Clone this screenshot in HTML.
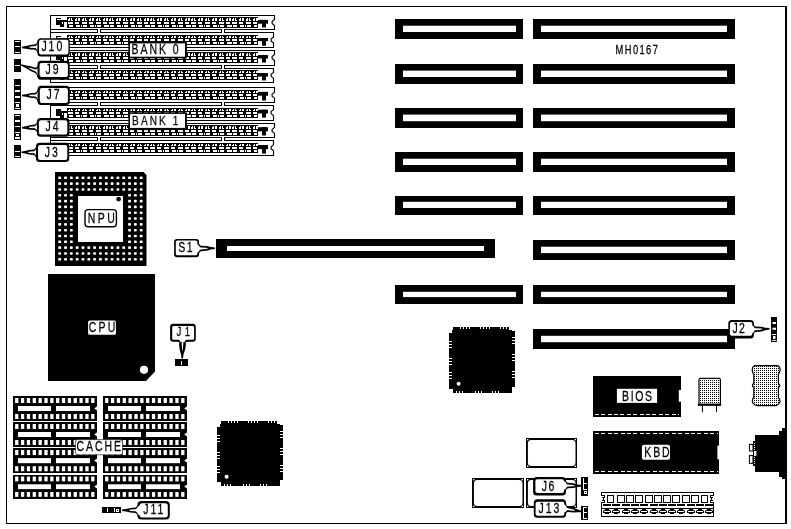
<!DOCTYPE html>
<html><head><meta charset="utf-8"><title>MH0167</title>
<style>
html,body{margin:0;padding:0;background:#fff;}
body{width:791px;height:529px;overflow:hidden;}
svg{display:block;}
text{font-family:"Liberation Sans",sans-serif;fill:#000;stroke:#000;stroke-width:0.25px;}
</style></head><body>
<svg width="791" height="529" viewBox="0 0 791 529" shape-rendering="crispEdges" style="will-change:transform">
<rect x="0" y="0" width="791" height="529" fill="#fff"/>
<defs><pattern id="dots" x="0" y="0" width="2" height="2" patternUnits="userSpaceOnUse"><rect x="0" y="0" width="2" height="2" fill="#fff"/><rect x="0" y="0" width="1" height="1" fill="#000"/></pattern></defs>
<defs>
<g id="band11">
<rect x="67" y="0" width="191" height="11" fill="#000" />
<rect x="68" y="1" width="2" height="3" fill="#fff" />
<rect x="68" y="1" width="1" height="1" fill="#000" />
<rect x="71" y="1" width="1" height="3" fill="#fff" />
<rect x="72" y="3" width="1" height="1" fill="#fff" />
<rect x="68" y="5" width="5" height="2" fill="#fff" />
<rect x="69" y="8" width="4" height="2" fill="#fff" />
<rect x="75" y="1" width="2" height="3" fill="#fff" />
<rect x="75" y="1" width="1" height="1" fill="#000" />
<rect x="78" y="1" width="2" height="3" fill="#fff" />
<rect x="75" y="5" width="4" height="2" fill="#fff" />
<rect x="76" y="8" width="4" height="2" fill="#fff" />
<rect x="82" y="1" width="2" height="3" fill="#fff" />
<rect x="82" y="1" width="1" height="1" fill="#000" />
<rect x="85" y="1" width="1" height="3" fill="#fff" />
<rect x="86" y="3" width="1" height="1" fill="#fff" />
<rect x="82" y="5" width="5" height="2" fill="#fff" />
<rect x="83" y="8" width="4" height="2" fill="#fff" />
<rect x="81" y="8" width="1" height="2" fill="#fff" />
<rect x="89" y="1" width="2" height="3" fill="#fff" />
<rect x="89" y="1" width="1" height="1" fill="#000" />
<rect x="92" y="1" width="2" height="3" fill="#fff" />
<rect x="89" y="5" width="4" height="2" fill="#fff" />
<rect x="90" y="8" width="4" height="2" fill="#fff" />
<rect x="96" y="1" width="2" height="3" fill="#fff" />
<rect x="96" y="1" width="1" height="1" fill="#000" />
<rect x="99" y="1" width="1" height="3" fill="#fff" />
<rect x="100" y="3" width="1" height="1" fill="#fff" />
<rect x="96" y="5" width="5" height="2" fill="#fff" />
<rect x="97" y="8" width="4" height="2" fill="#fff" />
<rect x="95" y="8" width="1" height="2" fill="#fff" />
<rect x="103" y="1" width="2" height="3" fill="#fff" />
<rect x="103" y="1" width="1" height="1" fill="#000" />
<rect x="106" y="1" width="2" height="3" fill="#fff" />
<rect x="103" y="5" width="4" height="2" fill="#fff" />
<rect x="104" y="8" width="4" height="2" fill="#fff" />
<rect x="109" y="1" width="2" height="3" fill="#fff" />
<rect x="109" y="1" width="1" height="1" fill="#000" />
<rect x="112" y="1" width="1" height="3" fill="#fff" />
<rect x="113" y="3" width="1" height="1" fill="#fff" />
<rect x="109" y="5" width="5" height="2" fill="#fff" />
<rect x="110" y="8" width="4" height="2" fill="#fff" />
<rect x="108" y="8" width="1" height="2" fill="#fff" />
<rect x="116" y="1" width="2" height="3" fill="#fff" />
<rect x="116" y="1" width="1" height="1" fill="#000" />
<rect x="119" y="1" width="2" height="3" fill="#fff" />
<rect x="116" y="5" width="4" height="2" fill="#fff" />
<rect x="117" y="8" width="4" height="2" fill="#fff" />
<rect x="123" y="1" width="2" height="3" fill="#fff" />
<rect x="123" y="1" width="1" height="1" fill="#000" />
<rect x="126" y="1" width="1" height="3" fill="#fff" />
<rect x="127" y="3" width="1" height="1" fill="#fff" />
<rect x="123" y="5" width="5" height="2" fill="#fff" />
<rect x="124" y="8" width="4" height="2" fill="#fff" />
<rect x="122" y="8" width="1" height="2" fill="#fff" />
<rect x="130" y="1" width="2" height="3" fill="#fff" />
<rect x="130" y="1" width="1" height="1" fill="#000" />
<rect x="133" y="1" width="2" height="3" fill="#fff" />
<rect x="130" y="5" width="4" height="2" fill="#fff" />
<rect x="131" y="8" width="4" height="2" fill="#fff" />
<rect x="137" y="1" width="2" height="3" fill="#fff" />
<rect x="137" y="1" width="1" height="1" fill="#000" />
<rect x="140" y="1" width="1" height="3" fill="#fff" />
<rect x="141" y="3" width="1" height="1" fill="#fff" />
<rect x="137" y="5" width="5" height="2" fill="#fff" />
<rect x="138" y="8" width="4" height="2" fill="#fff" />
<rect x="136" y="8" width="1" height="2" fill="#fff" />
<rect x="144" y="1" width="2" height="3" fill="#fff" />
<rect x="144" y="1" width="1" height="1" fill="#000" />
<rect x="147" y="1" width="2" height="3" fill="#fff" />
<rect x="144" y="5" width="4" height="2" fill="#fff" />
<rect x="145" y="8" width="4" height="2" fill="#fff" />
<rect x="150" y="1" width="2" height="3" fill="#fff" />
<rect x="150" y="1" width="1" height="1" fill="#000" />
<rect x="153" y="1" width="1" height="3" fill="#fff" />
<rect x="154" y="3" width="1" height="1" fill="#fff" />
<rect x="150" y="5" width="5" height="2" fill="#fff" />
<rect x="151" y="8" width="4" height="2" fill="#fff" />
<rect x="149" y="8" width="1" height="2" fill="#fff" />
<rect x="157" y="1" width="2" height="3" fill="#fff" />
<rect x="157" y="1" width="1" height="1" fill="#000" />
<rect x="160" y="1" width="2" height="3" fill="#fff" />
<rect x="157" y="5" width="4" height="2" fill="#fff" />
<rect x="158" y="8" width="4" height="2" fill="#fff" />
<rect x="164" y="1" width="2" height="3" fill="#fff" />
<rect x="164" y="1" width="1" height="1" fill="#000" />
<rect x="167" y="1" width="1" height="3" fill="#fff" />
<rect x="168" y="3" width="1" height="1" fill="#fff" />
<rect x="164" y="5" width="5" height="2" fill="#fff" />
<rect x="165" y="8" width="4" height="2" fill="#fff" />
<rect x="163" y="8" width="1" height="2" fill="#fff" />
<rect x="171" y="1" width="2" height="3" fill="#fff" />
<rect x="171" y="1" width="1" height="1" fill="#000" />
<rect x="174" y="1" width="2" height="3" fill="#fff" />
<rect x="171" y="5" width="4" height="2" fill="#fff" />
<rect x="172" y="8" width="4" height="2" fill="#fff" />
<rect x="178" y="1" width="2" height="3" fill="#fff" />
<rect x="178" y="1" width="1" height="1" fill="#000" />
<rect x="181" y="1" width="1" height="3" fill="#fff" />
<rect x="182" y="3" width="1" height="1" fill="#fff" />
<rect x="178" y="5" width="5" height="2" fill="#fff" />
<rect x="179" y="8" width="4" height="2" fill="#fff" />
<rect x="177" y="8" width="1" height="2" fill="#fff" />
<rect x="185" y="1" width="2" height="3" fill="#fff" />
<rect x="185" y="1" width="1" height="1" fill="#000" />
<rect x="188" y="1" width="2" height="3" fill="#fff" />
<rect x="185" y="5" width="4" height="2" fill="#fff" />
<rect x="186" y="8" width="4" height="2" fill="#fff" />
<rect x="191" y="1" width="2" height="3" fill="#fff" />
<rect x="191" y="1" width="1" height="1" fill="#000" />
<rect x="194" y="1" width="1" height="3" fill="#fff" />
<rect x="195" y="3" width="1" height="1" fill="#fff" />
<rect x="191" y="5" width="5" height="2" fill="#fff" />
<rect x="192" y="8" width="4" height="2" fill="#fff" />
<rect x="190" y="8" width="1" height="2" fill="#fff" />
<rect x="198" y="1" width="2" height="3" fill="#fff" />
<rect x="198" y="1" width="1" height="1" fill="#000" />
<rect x="201" y="1" width="2" height="3" fill="#fff" />
<rect x="198" y="5" width="4" height="2" fill="#fff" />
<rect x="199" y="8" width="4" height="2" fill="#fff" />
<rect x="205" y="1" width="2" height="3" fill="#fff" />
<rect x="205" y="1" width="1" height="1" fill="#000" />
<rect x="208" y="1" width="1" height="3" fill="#fff" />
<rect x="209" y="3" width="1" height="1" fill="#fff" />
<rect x="205" y="5" width="5" height="2" fill="#fff" />
<rect x="206" y="8" width="4" height="2" fill="#fff" />
<rect x="204" y="8" width="1" height="2" fill="#fff" />
<rect x="212" y="1" width="2" height="3" fill="#fff" />
<rect x="212" y="1" width="1" height="1" fill="#000" />
<rect x="215" y="1" width="2" height="3" fill="#fff" />
<rect x="212" y="5" width="4" height="2" fill="#fff" />
<rect x="213" y="8" width="4" height="2" fill="#fff" />
<rect x="219" y="1" width="2" height="3" fill="#fff" />
<rect x="219" y="1" width="1" height="1" fill="#000" />
<rect x="222" y="1" width="1" height="3" fill="#fff" />
<rect x="223" y="3" width="1" height="1" fill="#fff" />
<rect x="219" y="5" width="5" height="2" fill="#fff" />
<rect x="220" y="8" width="4" height="2" fill="#fff" />
<rect x="218" y="8" width="1" height="2" fill="#fff" />
<rect x="226" y="1" width="2" height="3" fill="#fff" />
<rect x="226" y="1" width="1" height="1" fill="#000" />
<rect x="229" y="1" width="2" height="3" fill="#fff" />
<rect x="226" y="5" width="4" height="2" fill="#fff" />
<rect x="227" y="8" width="4" height="2" fill="#fff" />
<rect x="232" y="1" width="2" height="3" fill="#fff" />
<rect x="232" y="1" width="1" height="1" fill="#000" />
<rect x="235" y="1" width="1" height="3" fill="#fff" />
<rect x="236" y="3" width="1" height="1" fill="#fff" />
<rect x="232" y="5" width="5" height="2" fill="#fff" />
<rect x="233" y="8" width="4" height="2" fill="#fff" />
<rect x="231" y="8" width="1" height="2" fill="#fff" />
<rect x="239" y="1" width="2" height="3" fill="#fff" />
<rect x="239" y="1" width="1" height="1" fill="#000" />
<rect x="242" y="1" width="2" height="3" fill="#fff" />
<rect x="239" y="5" width="4" height="2" fill="#fff" />
<rect x="240" y="8" width="4" height="2" fill="#fff" />
<rect x="246" y="1" width="2" height="3" fill="#fff" />
<rect x="246" y="1" width="1" height="1" fill="#000" />
<rect x="249" y="1" width="1" height="3" fill="#fff" />
<rect x="250" y="3" width="1" height="1" fill="#fff" />
<rect x="246" y="5" width="5" height="2" fill="#fff" />
<rect x="247" y="8" width="4" height="2" fill="#fff" />
<rect x="245" y="8" width="1" height="2" fill="#fff" />
<rect x="253" y="1" width="2" height="3" fill="#fff" />
<rect x="253" y="1" width="1" height="1" fill="#000" />
<rect x="256" y="1" width="2" height="3" fill="#fff" />
<rect x="253" y="5" width="4" height="2" fill="#fff" />
<rect x="254" y="8" width="3" height="2" fill="#fff" />
</g>
<g id="band10">
<rect x="67" y="0" width="191" height="10" fill="#000" />
<rect x="68" y="1" width="2" height="2" fill="#fff" />
<rect x="68" y="1" width="1" height="1" fill="#000" />
<rect x="71" y="1" width="1" height="2" fill="#fff" />
<rect x="72" y="2" width="1" height="1" fill="#fff" />
<rect x="68" y="4" width="5" height="2" fill="#fff" />
<rect x="69" y="7" width="4" height="2" fill="#fff" />
<rect x="75" y="1" width="2" height="2" fill="#fff" />
<rect x="75" y="1" width="1" height="1" fill="#000" />
<rect x="78" y="1" width="2" height="2" fill="#fff" />
<rect x="75" y="4" width="4" height="2" fill="#fff" />
<rect x="76" y="7" width="4" height="2" fill="#fff" />
<rect x="82" y="1" width="2" height="2" fill="#fff" />
<rect x="82" y="1" width="1" height="1" fill="#000" />
<rect x="85" y="1" width="1" height="2" fill="#fff" />
<rect x="86" y="2" width="1" height="1" fill="#fff" />
<rect x="82" y="4" width="5" height="2" fill="#fff" />
<rect x="83" y="7" width="4" height="2" fill="#fff" />
<rect x="81" y="7" width="1" height="2" fill="#fff" />
<rect x="89" y="1" width="2" height="2" fill="#fff" />
<rect x="89" y="1" width="1" height="1" fill="#000" />
<rect x="92" y="1" width="2" height="2" fill="#fff" />
<rect x="89" y="4" width="4" height="2" fill="#fff" />
<rect x="90" y="7" width="4" height="2" fill="#fff" />
<rect x="96" y="1" width="2" height="2" fill="#fff" />
<rect x="96" y="1" width="1" height="1" fill="#000" />
<rect x="99" y="1" width="1" height="2" fill="#fff" />
<rect x="100" y="2" width="1" height="1" fill="#fff" />
<rect x="96" y="4" width="5" height="2" fill="#fff" />
<rect x="97" y="7" width="4" height="2" fill="#fff" />
<rect x="95" y="7" width="1" height="2" fill="#fff" />
<rect x="103" y="1" width="2" height="2" fill="#fff" />
<rect x="103" y="1" width="1" height="1" fill="#000" />
<rect x="106" y="1" width="2" height="2" fill="#fff" />
<rect x="103" y="4" width="4" height="2" fill="#fff" />
<rect x="104" y="7" width="4" height="2" fill="#fff" />
<rect x="109" y="1" width="2" height="2" fill="#fff" />
<rect x="109" y="1" width="1" height="1" fill="#000" />
<rect x="112" y="1" width="1" height="2" fill="#fff" />
<rect x="113" y="2" width="1" height="1" fill="#fff" />
<rect x="109" y="4" width="5" height="2" fill="#fff" />
<rect x="110" y="7" width="4" height="2" fill="#fff" />
<rect x="108" y="7" width="1" height="2" fill="#fff" />
<rect x="116" y="1" width="2" height="2" fill="#fff" />
<rect x="116" y="1" width="1" height="1" fill="#000" />
<rect x="119" y="1" width="2" height="2" fill="#fff" />
<rect x="116" y="4" width="4" height="2" fill="#fff" />
<rect x="117" y="7" width="4" height="2" fill="#fff" />
<rect x="123" y="1" width="2" height="2" fill="#fff" />
<rect x="123" y="1" width="1" height="1" fill="#000" />
<rect x="126" y="1" width="1" height="2" fill="#fff" />
<rect x="127" y="2" width="1" height="1" fill="#fff" />
<rect x="123" y="4" width="5" height="2" fill="#fff" />
<rect x="124" y="7" width="4" height="2" fill="#fff" />
<rect x="122" y="7" width="1" height="2" fill="#fff" />
<rect x="130" y="1" width="2" height="2" fill="#fff" />
<rect x="130" y="1" width="1" height="1" fill="#000" />
<rect x="133" y="1" width="2" height="2" fill="#fff" />
<rect x="130" y="4" width="4" height="2" fill="#fff" />
<rect x="131" y="7" width="4" height="2" fill="#fff" />
<rect x="137" y="1" width="2" height="2" fill="#fff" />
<rect x="137" y="1" width="1" height="1" fill="#000" />
<rect x="140" y="1" width="1" height="2" fill="#fff" />
<rect x="141" y="2" width="1" height="1" fill="#fff" />
<rect x="137" y="4" width="5" height="2" fill="#fff" />
<rect x="138" y="7" width="4" height="2" fill="#fff" />
<rect x="136" y="7" width="1" height="2" fill="#fff" />
<rect x="144" y="1" width="2" height="2" fill="#fff" />
<rect x="144" y="1" width="1" height="1" fill="#000" />
<rect x="147" y="1" width="2" height="2" fill="#fff" />
<rect x="144" y="4" width="4" height="2" fill="#fff" />
<rect x="145" y="7" width="4" height="2" fill="#fff" />
<rect x="150" y="1" width="2" height="2" fill="#fff" />
<rect x="150" y="1" width="1" height="1" fill="#000" />
<rect x="153" y="1" width="1" height="2" fill="#fff" />
<rect x="154" y="2" width="1" height="1" fill="#fff" />
<rect x="150" y="4" width="5" height="2" fill="#fff" />
<rect x="151" y="7" width="4" height="2" fill="#fff" />
<rect x="149" y="7" width="1" height="2" fill="#fff" />
<rect x="157" y="1" width="2" height="2" fill="#fff" />
<rect x="157" y="1" width="1" height="1" fill="#000" />
<rect x="160" y="1" width="2" height="2" fill="#fff" />
<rect x="157" y="4" width="4" height="2" fill="#fff" />
<rect x="158" y="7" width="4" height="2" fill="#fff" />
<rect x="164" y="1" width="2" height="2" fill="#fff" />
<rect x="164" y="1" width="1" height="1" fill="#000" />
<rect x="167" y="1" width="1" height="2" fill="#fff" />
<rect x="168" y="2" width="1" height="1" fill="#fff" />
<rect x="164" y="4" width="5" height="2" fill="#fff" />
<rect x="165" y="7" width="4" height="2" fill="#fff" />
<rect x="163" y="7" width="1" height="2" fill="#fff" />
<rect x="171" y="1" width="2" height="2" fill="#fff" />
<rect x="171" y="1" width="1" height="1" fill="#000" />
<rect x="174" y="1" width="2" height="2" fill="#fff" />
<rect x="171" y="4" width="4" height="2" fill="#fff" />
<rect x="172" y="7" width="4" height="2" fill="#fff" />
<rect x="178" y="1" width="2" height="2" fill="#fff" />
<rect x="178" y="1" width="1" height="1" fill="#000" />
<rect x="181" y="1" width="1" height="2" fill="#fff" />
<rect x="182" y="2" width="1" height="1" fill="#fff" />
<rect x="178" y="4" width="5" height="2" fill="#fff" />
<rect x="179" y="7" width="4" height="2" fill="#fff" />
<rect x="177" y="7" width="1" height="2" fill="#fff" />
<rect x="185" y="1" width="2" height="2" fill="#fff" />
<rect x="185" y="1" width="1" height="1" fill="#000" />
<rect x="188" y="1" width="2" height="2" fill="#fff" />
<rect x="185" y="4" width="4" height="2" fill="#fff" />
<rect x="186" y="7" width="4" height="2" fill="#fff" />
<rect x="191" y="1" width="2" height="2" fill="#fff" />
<rect x="191" y="1" width="1" height="1" fill="#000" />
<rect x="194" y="1" width="1" height="2" fill="#fff" />
<rect x="195" y="2" width="1" height="1" fill="#fff" />
<rect x="191" y="4" width="5" height="2" fill="#fff" />
<rect x="192" y="7" width="4" height="2" fill="#fff" />
<rect x="190" y="7" width="1" height="2" fill="#fff" />
<rect x="198" y="1" width="2" height="2" fill="#fff" />
<rect x="198" y="1" width="1" height="1" fill="#000" />
<rect x="201" y="1" width="2" height="2" fill="#fff" />
<rect x="198" y="4" width="4" height="2" fill="#fff" />
<rect x="199" y="7" width="4" height="2" fill="#fff" />
<rect x="205" y="1" width="2" height="2" fill="#fff" />
<rect x="205" y="1" width="1" height="1" fill="#000" />
<rect x="208" y="1" width="1" height="2" fill="#fff" />
<rect x="209" y="2" width="1" height="1" fill="#fff" />
<rect x="205" y="4" width="5" height="2" fill="#fff" />
<rect x="206" y="7" width="4" height="2" fill="#fff" />
<rect x="204" y="7" width="1" height="2" fill="#fff" />
<rect x="212" y="1" width="2" height="2" fill="#fff" />
<rect x="212" y="1" width="1" height="1" fill="#000" />
<rect x="215" y="1" width="2" height="2" fill="#fff" />
<rect x="212" y="4" width="4" height="2" fill="#fff" />
<rect x="213" y="7" width="4" height="2" fill="#fff" />
<rect x="219" y="1" width="2" height="2" fill="#fff" />
<rect x="219" y="1" width="1" height="1" fill="#000" />
<rect x="222" y="1" width="1" height="2" fill="#fff" />
<rect x="223" y="2" width="1" height="1" fill="#fff" />
<rect x="219" y="4" width="5" height="2" fill="#fff" />
<rect x="220" y="7" width="4" height="2" fill="#fff" />
<rect x="218" y="7" width="1" height="2" fill="#fff" />
<rect x="226" y="1" width="2" height="2" fill="#fff" />
<rect x="226" y="1" width="1" height="1" fill="#000" />
<rect x="229" y="1" width="2" height="2" fill="#fff" />
<rect x="226" y="4" width="4" height="2" fill="#fff" />
<rect x="227" y="7" width="4" height="2" fill="#fff" />
<rect x="232" y="1" width="2" height="2" fill="#fff" />
<rect x="232" y="1" width="1" height="1" fill="#000" />
<rect x="235" y="1" width="1" height="2" fill="#fff" />
<rect x="236" y="2" width="1" height="1" fill="#fff" />
<rect x="232" y="4" width="5" height="2" fill="#fff" />
<rect x="233" y="7" width="4" height="2" fill="#fff" />
<rect x="231" y="7" width="1" height="2" fill="#fff" />
<rect x="239" y="1" width="2" height="2" fill="#fff" />
<rect x="239" y="1" width="1" height="1" fill="#000" />
<rect x="242" y="1" width="2" height="2" fill="#fff" />
<rect x="239" y="4" width="4" height="2" fill="#fff" />
<rect x="240" y="7" width="4" height="2" fill="#fff" />
<rect x="246" y="1" width="2" height="2" fill="#fff" />
<rect x="246" y="1" width="1" height="1" fill="#000" />
<rect x="249" y="1" width="1" height="2" fill="#fff" />
<rect x="250" y="2" width="1" height="1" fill="#fff" />
<rect x="246" y="4" width="5" height="2" fill="#fff" />
<rect x="247" y="7" width="4" height="2" fill="#fff" />
<rect x="245" y="7" width="1" height="2" fill="#fff" />
<rect x="253" y="1" width="2" height="2" fill="#fff" />
<rect x="253" y="1" width="1" height="1" fill="#000" />
<rect x="256" y="1" width="2" height="2" fill="#fff" />
<rect x="253" y="4" width="4" height="2" fill="#fff" />
<rect x="254" y="7" width="3" height="2" fill="#fff" />
</g>
</defs>
<rect x="6" y="6" width="781" height="1" fill="#000" />
<rect x="6" y="6" width="1" height="518" fill="#000" />
<rect x="6" y="523" width="781" height="1" fill="#000" />
<rect x="785" y="6" width="2" height="518" fill="#000" />
<rect x="50" y="15" width="1" height="68" fill="#000" />
<rect x="50" y="87" width="1" height="69" fill="#000" />
<rect x="50" y="15" width="225" height="1" fill="#000" />
<rect x="50" y="29" width="225" height="1" fill="#000" />
<polyline points="274.5,15.5 274.5,19.5 272.1,21.5 272.1,23.5 274.5,25.5 274.5,29.5" fill="none" stroke="#000" stroke-width="1.15" shape-rendering="geometricPrecision"/>
<use href="#band11" y="17"/>
<rect x="258" y="19.9" width="10" height="3.8" fill="#000" shape-rendering="geometricPrecision"/>
<rect x="262" y="19.9" width="4" height="7.6" fill="#000" shape-rendering="geometricPrecision"/>
<rect x="56" y="18" width="5" height="7" fill="#000" />
<rect x="60" y="21" width="4" height="6" fill="#000" />
<rect x="61" y="20" width="6" height="2" fill="#000" />
<rect x="57" y="19" width="4" height="1" fill="#fff" />
<rect x="62" y="22" width="1" height="2" fill="#fff" />
<rect x="50" y="32" width="224" height="1" fill="#000" />
<rect x="50" y="47" width="224" height="1" fill="#000" />
<polyline points="273.5,32.5 273.5,36.95 271.1,38.95 271.1,40.95 273.5,42.95 273.5,47.5" fill="none" stroke="#000" stroke-width="1.15" shape-rendering="geometricPrecision"/>
<use href="#band10" y="35"/>
<rect x="258" y="38" width="10" height="3.1" fill="#000" shape-rendering="geometricPrecision"/>
<rect x="262" y="38" width="4" height="7.7" fill="#000" shape-rendering="geometricPrecision"/>
<rect x="56" y="36" width="5" height="7" fill="#000" />
<rect x="60" y="39" width="4" height="6" fill="#000" />
<rect x="61" y="38" width="6" height="2" fill="#000" />
<rect x="57" y="37" width="4" height="1" fill="#fff" />
<rect x="62" y="40" width="1" height="2" fill="#fff" />
<rect x="50" y="50" width="225" height="1" fill="#000" />
<rect x="50" y="65" width="225" height="1" fill="#000" />
<polyline points="274.5,50.5 274.5,54.55 272.1,56.55 272.1,58.55 274.5,60.55 274.5,65.5" fill="none" stroke="#000" stroke-width="1.15" shape-rendering="geometricPrecision"/>
<use href="#band11" y="52"/>
<rect x="258" y="55.1" width="10" height="3.4" fill="#000" shape-rendering="geometricPrecision"/>
<rect x="262" y="55.1" width="4" height="7.4" fill="#000" shape-rendering="geometricPrecision"/>
<rect x="56" y="53" width="5" height="7" fill="#000" />
<rect x="60" y="56" width="4" height="6" fill="#000" />
<rect x="61" y="55" width="6" height="2" fill="#000" />
<rect x="62" y="57" width="1" height="2" fill="#fff" />
<rect x="50" y="68" width="224" height="1" fill="#000" />
<rect x="50" y="82" width="224" height="1" fill="#000" />
<polyline points="273.5,68.5 273.5,72.35 271.1,74.35 271.1,76.35 273.5,78.35 273.5,82.5" fill="none" stroke="#000" stroke-width="1.15" shape-rendering="geometricPrecision"/>
<use href="#band10" y="70"/>
<rect x="258" y="73.1" width="10" height="3.5" fill="#000" shape-rendering="geometricPrecision"/>
<rect x="262" y="73.1" width="4" height="7.3" fill="#000" shape-rendering="geometricPrecision"/>
<rect x="56" y="71" width="5" height="7" fill="#000" />
<rect x="60" y="74" width="4" height="6" fill="#000" />
<rect x="61" y="73" width="6" height="2" fill="#000" />
<rect x="62" y="75" width="1" height="2" fill="#fff" />
<rect x="50" y="87" width="225" height="1" fill="#000" />
<rect x="50" y="102" width="225" height="1" fill="#000" />
<polyline points="274.5,87.5 274.5,92.15 272.1,94.15 272.1,96.15 274.5,98.15 274.5,102.5" fill="none" stroke="#000" stroke-width="1.15" shape-rendering="geometricPrecision"/>
<use href="#band10" y="90"/>
<rect x="258" y="91.9" width="10" height="3.8" fill="#000" shape-rendering="geometricPrecision"/>
<rect x="262" y="91.9" width="4" height="8.6" fill="#000" shape-rendering="geometricPrecision"/>
<rect x="56" y="91" width="5" height="7" fill="#000" />
<rect x="60" y="94" width="4" height="6" fill="#000" />
<rect x="61" y="93" width="6" height="2" fill="#000" />
<rect x="62" y="95" width="1" height="2" fill="#fff" />
<rect x="50" y="105" width="224" height="1" fill="#000" />
<rect x="50" y="120" width="224" height="1" fill="#000" />
<polyline points="273.5,105.5 273.5,109.6 271.1,111.6 271.1,113.6 273.5,115.6 273.5,120.5" fill="none" stroke="#000" stroke-width="1.15" shape-rendering="geometricPrecision"/>
<use href="#band10" y="108"/>
<rect x="258" y="109.7" width="10" height="3.8" fill="#000" shape-rendering="geometricPrecision"/>
<rect x="262" y="109.7" width="4" height="7.9" fill="#000" shape-rendering="geometricPrecision"/>
<rect x="56" y="109" width="5" height="7" fill="#000" />
<rect x="60" y="112" width="4" height="6" fill="#000" />
<rect x="61" y="111" width="6" height="2" fill="#000" />
<rect x="62" y="113" width="1" height="2" fill="#fff" />
<rect x="50" y="123" width="225" height="1" fill="#000" />
<rect x="50" y="137" width="225" height="1" fill="#000" />
<polyline points="274.5,123.5 274.5,127.4 272.1,129.4 272.1,131.4 274.5,133.4 274.5,137.5" fill="none" stroke="#000" stroke-width="1.15" shape-rendering="geometricPrecision"/>
<use href="#band11" y="125"/>
<rect x="258" y="127.2" width="10" height="4.1" fill="#000" shape-rendering="geometricPrecision"/>
<rect x="262" y="127.2" width="4" height="8.3" fill="#000" shape-rendering="geometricPrecision"/>
<rect x="56" y="126" width="5" height="7" fill="#000" />
<rect x="60" y="129" width="4" height="6" fill="#000" />
<rect x="61" y="128" width="6" height="2" fill="#000" />
<rect x="62" y="130" width="1" height="2" fill="#fff" />
<rect x="50" y="140" width="224" height="1" fill="#000" />
<rect x="50" y="155" width="224" height="1" fill="#000" />
<polyline points="273.5,140.5 273.5,144.75 271.1,146.75 271.1,148.75 273.5,150.75 273.5,155.5" fill="none" stroke="#000" stroke-width="1.15" shape-rendering="geometricPrecision"/>
<use href="#band10" y="143"/>
<rect x="258" y="145" width="10" height="4.1" fill="#000" shape-rendering="geometricPrecision"/>
<rect x="262" y="145" width="4" height="8.6" fill="#000" shape-rendering="geometricPrecision"/>
<rect x="56" y="144" width="5" height="7" fill="#000" />
<rect x="60" y="147" width="4" height="6" fill="#000" />
<rect x="61" y="146" width="6" height="2" fill="#000" />
<rect x="62" y="148" width="1" height="2" fill="#fff" />
<rect x="98" y="29" width="2" height="4" fill="#fff" />
<rect x="97" y="29" width="1" height="4" fill="#000" />
<rect x="100" y="29" width="1" height="4" fill="#000" />
<rect x="222" y="29" width="2" height="4" fill="#fff" />
<rect x="221" y="29" width="1" height="4" fill="#000" />
<rect x="224" y="29" width="1" height="4" fill="#000" />
<rect x="98" y="65" width="2" height="4" fill="#fff" />
<rect x="97" y="65" width="1" height="4" fill="#000" />
<rect x="100" y="65" width="1" height="4" fill="#000" />
<rect x="222" y="65" width="2" height="4" fill="#fff" />
<rect x="221" y="65" width="1" height="4" fill="#000" />
<rect x="224" y="65" width="1" height="4" fill="#000" />
<rect x="98" y="102" width="2" height="4" fill="#fff" />
<rect x="97" y="102" width="1" height="4" fill="#000" />
<rect x="100" y="102" width="1" height="4" fill="#000" />
<rect x="222" y="102" width="2" height="4" fill="#fff" />
<rect x="221" y="102" width="1" height="4" fill="#000" />
<rect x="224" y="102" width="1" height="4" fill="#000" />
<rect x="98" y="137" width="2" height="4" fill="#fff" />
<rect x="97" y="137" width="1" height="4" fill="#000" />
<rect x="100" y="137" width="1" height="4" fill="#000" />
<rect x="222" y="137" width="2" height="4" fill="#fff" />
<rect x="221" y="137" width="1" height="4" fill="#000" />
<rect x="224" y="137" width="1" height="4" fill="#000" />
<rect x="14" y="40" width="7" height="14" fill="#000" />
<rect x="15" y="41" width="5" height="1" fill="#fff" />
<rect x="15" y="46" width="5" height="1" fill="#fff" />
<rect x="15" y="52" width="5" height="1" fill="#fff" />
<polygon points="39.928,39.252 37.7006,41.0325 36.7012,42.9686 35.4021,44.2656 30.1055,44.907 25.984,46.056 22,46.8 22,48.2 25.984,48.656 30.1055,49.507 35.4021,49.7656 36.7012,50.9686 37.7006,52.8325 39.928,54.452" fill="#000" stroke="none" stroke-width="1" shape-rendering="geometricPrecision"/>
<polygon points="40.592,41.228 37.7006,43.0325 36.7012,44.9686 35.4021,46.0156 30.1055,46.557 28.972,47.188 28.972,47.308 30.1055,47.857 35.4021,48.0156 36.7012,48.9686 37.7006,50.8325 40.592,52.428" fill="#fff" stroke="none" stroke-width="1" shape-rendering="geometricPrecision"/>
<rect x="37.4" y="38.2" width="32.4" height="18.3" rx="3.5" fill="#000" shape-rendering="geometricPrecision"/>
<rect x="39.05" y="39.85" width="29.35" height="14.55" rx="2" fill="#fff" shape-rendering="geometricPrecision"/>
<text transform="translate(41.4,50.7) scale(0.75,1)" font-size="14" letter-spacing="2.6" >J10</text>
<rect x="14" y="59" width="7" height="13" fill="#000" />
<rect x="15" y="65" width="5" height="1" fill="#fff" />
<polygon points="40.008,64.536 37.7589,65.3798 36.8243,66.924 35.6094,67.7115 30.6561,66.2759 25.224,65.208 21,64.2 21,65.6 25.224,67.808 30.6561,70.8759 35.6094,73.2115 36.8243,74.924 37.7589,77.1798 40.008,79.736" fill="#000" stroke="none" stroke-width="1" shape-rendering="geometricPrecision"/>
<polygon points="40.712,66.804 37.7589,67.3798 36.8243,68.924 35.6094,69.4615 30.6561,67.9259 28.392,67.654 28.392,67.774 30.6561,69.2259 35.6094,71.4615 36.8243,72.924 37.7589,75.1798 40.712,78.004" fill="#fff" stroke="none" stroke-width="1" shape-rendering="geometricPrecision"/>
<rect x="37.5" y="60.8" width="32.2" height="19" rx="3.5" fill="#000" shape-rendering="geometricPrecision"/>
<rect x="39.6" y="62.9" width="28.3" height="14.1" rx="2" fill="#fff" shape-rendering="geometricPrecision"/>
<text transform="translate(45.6,73.8) scale(0.75,1)" font-size="14" letter-spacing="2.6" >J9</text>
<rect x="14" y="79" width="7" height="31" fill="#000" />
<rect x="15" y="85" width="5" height="1" fill="#fff" />
<rect x="15" y="90" width="5" height="2" fill="#fff" />
<rect x="15" y="96" width="5" height="2" fill="#fff" />
<rect x="15" y="102" width="5" height="1" fill="#fff" />
<rect x="15" y="108" width="5" height="1" fill="#fff" />
<rect x="16" y="104" width="3" height="3" fill="#fff" />
<polygon points="39.928,87.9 37.7,89.6 36.7,91.5 35.4,92.75 30.1,93.2 25.984,94.2 22,94.8 22,96.2 25.984,96.8 30.1,97.8 35.4,98.25 36.7,99.5 37.7,101.4 39.928,103.1" fill="#000" stroke="none" stroke-width="1" shape-rendering="geometricPrecision"/>
<polygon points="40.592,89.9 37.7,91.6 36.7,93.5 35.4,94.5 30.1,94.85 28.972,95.44 28.972,95.56 30.1,96.15 35.4,96.5 36.7,97.5 37.7,99.4 40.592,101.1" fill="#fff" stroke="none" stroke-width="1" shape-rendering="geometricPrecision"/>
<rect x="37.6" y="85.8" width="32.2" height="19.2" rx="3.5" fill="#000" shape-rendering="geometricPrecision"/>
<rect x="39.8" y="87.9" width="28.1" height="15" rx="2" fill="#fff" shape-rendering="geometricPrecision"/>
<text transform="translate(46.6,98.8) scale(0.75,1)" font-size="14" letter-spacing="2.6" >J7</text>
<rect x="14" y="114" width="7" height="26" fill="#000" />
<rect x="15" y="115" width="5" height="1" fill="#fff" />
<rect x="15" y="120" width="5" height="2" fill="#fff" />
<rect x="15" y="126" width="5" height="1" fill="#fff" />
<rect x="15" y="132" width="5" height="1" fill="#fff" />
<rect x="15" y="137" width="5" height="2" fill="#fff" />
<rect x="16" y="134" width="3" height="2" fill="#fff" />
<polygon points="39.496,119.56 37.3004,121.328 36.3009,123.259 35.0015,124.549 29.704,125.162 25.888,126.28 22,127 22,128.4 25.888,128.88 29.704,129.762 35.0015,130.049 36.3009,131.259 37.3004,133.128 39.496,134.76" fill="#000" stroke="none" stroke-width="1" shape-rendering="geometricPrecision"/>
<polygon points="40.144,121.54 37.3004,123.328 36.3009,125.259 35.0015,126.299 29.704,126.812 28.804,127.43 28.804,127.55 29.704,128.112 35.0015,128.299 36.3009,129.259 37.3004,131.128 40.144,132.74" fill="#fff" stroke="none" stroke-width="1" shape-rendering="geometricPrecision"/>
<rect x="37" y="118.1" width="32.5" height="18.7" rx="3.5" fill="#000" shape-rendering="geometricPrecision"/>
<rect x="38.85" y="120.3" width="28.45" height="14.2" rx="2" fill="#fff" shape-rendering="geometricPrecision"/>
<text transform="translate(45.6,130.75) scale(0.75,1)" font-size="14" letter-spacing="2.6" >J4</text>
<rect x="14" y="145" width="7" height="13" fill="#000" />
<rect x="15" y="151" width="5" height="1" fill="#fff" />
<rect x="15" y="155.5" width="5" height="1.5" fill="#fff" />
<polygon points="38.456,144.7 36.3,146.4 35.3,148.3 34,149.55 28.7,150 25.268,151 21.5,151.6 21.5,153 25.268,153.6 28.7,154.6 34,155.05 35.3,156.3 36.3,158.2 38.456,159.9" fill="#000" stroke="none" stroke-width="1" shape-rendering="geometricPrecision"/>
<polygon points="39.084,146.7 36.3,148.4 35.3,150.3 34,151.3 28.7,151.65 28.094,152.24 28.094,152.36 28.7,152.95 34,153.3 35.3,154.3 36.3,156.2 39.084,157.9" fill="#fff" stroke="none" stroke-width="1" shape-rendering="geometricPrecision"/>
<rect x="36" y="142.8" width="33.2" height="19.2" rx="3.5" fill="#000" shape-rendering="geometricPrecision"/>
<rect x="38.1" y="144.9" width="29.2" height="15" rx="2" fill="#fff" shape-rendering="geometricPrecision"/>
<text transform="translate(44.7,156.75) scale(0.75,1)" font-size="14" letter-spacing="2.6" >J3</text>
<rect x="128.4" y="41.9" width="58.5" height="16.5" fill="#000" shape-rendering="geometricPrecision"/>
<rect x="130" y="43.4" width="55" height="13.3" fill="#fff" shape-rendering="geometricPrecision"/>
<text transform="translate(131.6,53.9) scale(0.75,1)" font-size="14" letter-spacing="2.6" >BANK 0</text>
<rect x="128.4" y="112.3" width="58.5" height="17.8" fill="#000" shape-rendering="geometricPrecision"/>
<rect x="130" y="113.9" width="55" height="14" fill="#fff" shape-rendering="geometricPrecision"/>
<text transform="translate(132.1,124.5) scale(0.75,1)" font-size="13.4" letter-spacing="2.8" >BANK 1</text>
<polygon points="55,172 143.5,172 146.5,175 146.5,266 55,266" fill="#000" stroke="none" stroke-width="1" shape-rendering="geometricPrecision"/>
<rect x="78" y="196" width="45" height="46.3" fill="#fff" />
<rect x="58.25" y="176.50" width="2.9" height="2.6" rx="0.9" fill="#fff" shape-rendering="geometricPrecision"/>
<rect x="58.25" y="182.32" width="2.9" height="2.6" rx="0.9" fill="#fff" shape-rendering="geometricPrecision"/>
<rect x="58.25" y="188.14" width="2.9" height="2.6" rx="0.9" fill="#fff" shape-rendering="geometricPrecision"/>
<rect x="58.25" y="193.96" width="2.9" height="2.6" rx="0.9" fill="#fff" shape-rendering="geometricPrecision"/>
<rect x="58.25" y="199.78" width="2.9" height="2.6" rx="0.9" fill="#fff" shape-rendering="geometricPrecision"/>
<rect x="58.25" y="205.60" width="2.9" height="2.6" rx="0.9" fill="#fff" shape-rendering="geometricPrecision"/>
<rect x="58.25" y="211.42" width="2.9" height="2.6" rx="0.9" fill="#fff" shape-rendering="geometricPrecision"/>
<rect x="58.25" y="217.24" width="2.9" height="2.6" rx="0.9" fill="#fff" shape-rendering="geometricPrecision"/>
<rect x="58.25" y="223.06" width="2.9" height="2.6" rx="0.9" fill="#fff" shape-rendering="geometricPrecision"/>
<rect x="58.25" y="228.88" width="2.9" height="2.6" rx="0.9" fill="#fff" shape-rendering="geometricPrecision"/>
<rect x="58.25" y="234.70" width="2.9" height="2.6" rx="0.9" fill="#fff" shape-rendering="geometricPrecision"/>
<rect x="58.25" y="240.52" width="2.9" height="2.6" rx="0.9" fill="#fff" shape-rendering="geometricPrecision"/>
<rect x="58.25" y="246.34" width="2.9" height="2.6" rx="0.9" fill="#fff" shape-rendering="geometricPrecision"/>
<rect x="58.25" y="252.16" width="2.9" height="2.6" rx="0.9" fill="#fff" shape-rendering="geometricPrecision"/>
<rect x="58.25" y="257.98" width="2.9" height="2.6" rx="0.9" fill="#fff" shape-rendering="geometricPrecision"/>
<rect x="64.07" y="176.50" width="2.9" height="2.6" rx="0.9" fill="#fff" shape-rendering="geometricPrecision"/>
<rect x="64.07" y="182.32" width="2.9" height="2.6" rx="0.9" fill="#fff" shape-rendering="geometricPrecision"/>
<rect x="64.07" y="188.14" width="2.9" height="2.6" rx="0.9" fill="#fff" shape-rendering="geometricPrecision"/>
<rect x="64.07" y="193.96" width="2.9" height="2.6" rx="0.9" fill="#fff" shape-rendering="geometricPrecision"/>
<rect x="64.07" y="199.78" width="2.9" height="2.6" rx="0.9" fill="#fff" shape-rendering="geometricPrecision"/>
<rect x="64.07" y="205.60" width="2.9" height="2.6" rx="0.9" fill="#fff" shape-rendering="geometricPrecision"/>
<rect x="64.07" y="211.42" width="2.9" height="2.6" rx="0.9" fill="#fff" shape-rendering="geometricPrecision"/>
<rect x="64.07" y="217.24" width="2.9" height="2.6" rx="0.9" fill="#fff" shape-rendering="geometricPrecision"/>
<rect x="64.07" y="223.06" width="2.9" height="2.6" rx="0.9" fill="#fff" shape-rendering="geometricPrecision"/>
<rect x="64.07" y="228.88" width="2.9" height="2.6" rx="0.9" fill="#fff" shape-rendering="geometricPrecision"/>
<rect x="64.07" y="234.70" width="2.9" height="2.6" rx="0.9" fill="#fff" shape-rendering="geometricPrecision"/>
<rect x="64.07" y="240.52" width="2.9" height="2.6" rx="0.9" fill="#fff" shape-rendering="geometricPrecision"/>
<rect x="64.07" y="246.34" width="2.9" height="2.6" rx="0.9" fill="#fff" shape-rendering="geometricPrecision"/>
<rect x="64.07" y="252.16" width="2.9" height="2.6" rx="0.9" fill="#fff" shape-rendering="geometricPrecision"/>
<rect x="64.07" y="257.98" width="2.9" height="2.6" rx="0.9" fill="#fff" shape-rendering="geometricPrecision"/>
<rect x="69.89" y="176.50" width="2.9" height="2.6" rx="0.9" fill="#fff" shape-rendering="geometricPrecision"/>
<rect x="69.89" y="182.32" width="2.9" height="2.6" rx="0.9" fill="#fff" shape-rendering="geometricPrecision"/>
<rect x="69.89" y="188.14" width="2.9" height="2.6" rx="0.9" fill="#fff" shape-rendering="geometricPrecision"/>
<rect x="69.89" y="193.96" width="2.9" height="2.6" rx="0.9" fill="#fff" shape-rendering="geometricPrecision"/>
<rect x="69.89" y="199.78" width="2.9" height="2.6" rx="0.9" fill="#fff" shape-rendering="geometricPrecision"/>
<rect x="69.89" y="205.60" width="2.9" height="2.6" rx="0.9" fill="#fff" shape-rendering="geometricPrecision"/>
<rect x="69.89" y="211.42" width="2.9" height="2.6" rx="0.9" fill="#fff" shape-rendering="geometricPrecision"/>
<rect x="69.89" y="217.24" width="2.9" height="2.6" rx="0.9" fill="#fff" shape-rendering="geometricPrecision"/>
<rect x="69.89" y="223.06" width="2.9" height="2.6" rx="0.9" fill="#fff" shape-rendering="geometricPrecision"/>
<rect x="69.89" y="228.88" width="2.9" height="2.6" rx="0.9" fill="#fff" shape-rendering="geometricPrecision"/>
<rect x="69.89" y="234.70" width="2.9" height="2.6" rx="0.9" fill="#fff" shape-rendering="geometricPrecision"/>
<rect x="69.89" y="240.52" width="2.9" height="2.6" rx="0.9" fill="#fff" shape-rendering="geometricPrecision"/>
<rect x="69.89" y="246.34" width="2.9" height="2.6" rx="0.9" fill="#fff" shape-rendering="geometricPrecision"/>
<rect x="69.89" y="252.16" width="2.9" height="2.6" rx="0.9" fill="#fff" shape-rendering="geometricPrecision"/>
<rect x="69.89" y="257.98" width="2.9" height="2.6" rx="0.9" fill="#fff" shape-rendering="geometricPrecision"/>
<rect x="75.71" y="176.50" width="2.9" height="2.6" rx="0.9" fill="#fff" shape-rendering="geometricPrecision"/>
<rect x="75.71" y="182.32" width="2.9" height="2.6" rx="0.9" fill="#fff" shape-rendering="geometricPrecision"/>
<rect x="75.71" y="188.14" width="2.9" height="2.6" rx="0.9" fill="#fff" shape-rendering="geometricPrecision"/>
<rect x="75.71" y="246.34" width="2.9" height="2.6" rx="0.9" fill="#fff" shape-rendering="geometricPrecision"/>
<rect x="75.71" y="252.16" width="2.9" height="2.6" rx="0.9" fill="#fff" shape-rendering="geometricPrecision"/>
<rect x="75.71" y="257.98" width="2.9" height="2.6" rx="0.9" fill="#fff" shape-rendering="geometricPrecision"/>
<rect x="81.53" y="176.50" width="2.9" height="2.6" rx="0.9" fill="#fff" shape-rendering="geometricPrecision"/>
<rect x="81.53" y="182.32" width="2.9" height="2.6" rx="0.9" fill="#fff" shape-rendering="geometricPrecision"/>
<rect x="81.53" y="188.14" width="2.9" height="2.6" rx="0.9" fill="#fff" shape-rendering="geometricPrecision"/>
<rect x="81.53" y="246.34" width="2.9" height="2.6" rx="0.9" fill="#fff" shape-rendering="geometricPrecision"/>
<rect x="81.53" y="252.16" width="2.9" height="2.6" rx="0.9" fill="#fff" shape-rendering="geometricPrecision"/>
<rect x="81.53" y="257.98" width="2.9" height="2.6" rx="0.9" fill="#fff" shape-rendering="geometricPrecision"/>
<rect x="87.35" y="176.50" width="2.9" height="2.6" rx="0.9" fill="#fff" shape-rendering="geometricPrecision"/>
<rect x="87.35" y="182.32" width="2.9" height="2.6" rx="0.9" fill="#fff" shape-rendering="geometricPrecision"/>
<rect x="87.35" y="188.14" width="2.9" height="2.6" rx="0.9" fill="#fff" shape-rendering="geometricPrecision"/>
<rect x="87.35" y="246.34" width="2.9" height="2.6" rx="0.9" fill="#fff" shape-rendering="geometricPrecision"/>
<rect x="87.35" y="252.16" width="2.9" height="2.6" rx="0.9" fill="#fff" shape-rendering="geometricPrecision"/>
<rect x="87.35" y="257.98" width="2.9" height="2.6" rx="0.9" fill="#fff" shape-rendering="geometricPrecision"/>
<rect x="93.17" y="176.50" width="2.9" height="2.6" rx="0.9" fill="#fff" shape-rendering="geometricPrecision"/>
<rect x="93.17" y="182.32" width="2.9" height="2.6" rx="0.9" fill="#fff" shape-rendering="geometricPrecision"/>
<rect x="93.17" y="188.14" width="2.9" height="2.6" rx="0.9" fill="#fff" shape-rendering="geometricPrecision"/>
<rect x="93.17" y="246.34" width="2.9" height="2.6" rx="0.9" fill="#fff" shape-rendering="geometricPrecision"/>
<rect x="93.17" y="252.16" width="2.9" height="2.6" rx="0.9" fill="#fff" shape-rendering="geometricPrecision"/>
<rect x="93.17" y="257.98" width="2.9" height="2.6" rx="0.9" fill="#fff" shape-rendering="geometricPrecision"/>
<rect x="98.99" y="176.50" width="2.9" height="2.6" rx="0.9" fill="#fff" shape-rendering="geometricPrecision"/>
<rect x="98.99" y="182.32" width="2.9" height="2.6" rx="0.9" fill="#fff" shape-rendering="geometricPrecision"/>
<rect x="98.99" y="188.14" width="2.9" height="2.6" rx="0.9" fill="#fff" shape-rendering="geometricPrecision"/>
<rect x="98.99" y="246.34" width="2.9" height="2.6" rx="0.9" fill="#fff" shape-rendering="geometricPrecision"/>
<rect x="98.99" y="252.16" width="2.9" height="2.6" rx="0.9" fill="#fff" shape-rendering="geometricPrecision"/>
<rect x="98.99" y="257.98" width="2.9" height="2.6" rx="0.9" fill="#fff" shape-rendering="geometricPrecision"/>
<rect x="104.81" y="176.50" width="2.9" height="2.6" rx="0.9" fill="#fff" shape-rendering="geometricPrecision"/>
<rect x="104.81" y="182.32" width="2.9" height="2.6" rx="0.9" fill="#fff" shape-rendering="geometricPrecision"/>
<rect x="104.81" y="188.14" width="2.9" height="2.6" rx="0.9" fill="#fff" shape-rendering="geometricPrecision"/>
<rect x="104.81" y="246.34" width="2.9" height="2.6" rx="0.9" fill="#fff" shape-rendering="geometricPrecision"/>
<rect x="104.81" y="252.16" width="2.9" height="2.6" rx="0.9" fill="#fff" shape-rendering="geometricPrecision"/>
<rect x="104.81" y="257.98" width="2.9" height="2.6" rx="0.9" fill="#fff" shape-rendering="geometricPrecision"/>
<rect x="110.63" y="176.50" width="2.9" height="2.6" rx="0.9" fill="#fff" shape-rendering="geometricPrecision"/>
<rect x="110.63" y="182.32" width="2.9" height="2.6" rx="0.9" fill="#fff" shape-rendering="geometricPrecision"/>
<rect x="110.63" y="188.14" width="2.9" height="2.6" rx="0.9" fill="#fff" shape-rendering="geometricPrecision"/>
<rect x="110.63" y="246.34" width="2.9" height="2.6" rx="0.9" fill="#fff" shape-rendering="geometricPrecision"/>
<rect x="110.63" y="252.16" width="2.9" height="2.6" rx="0.9" fill="#fff" shape-rendering="geometricPrecision"/>
<rect x="110.63" y="257.98" width="2.9" height="2.6" rx="0.9" fill="#fff" shape-rendering="geometricPrecision"/>
<rect x="116.45" y="176.50" width="2.9" height="2.6" rx="0.9" fill="#fff" shape-rendering="geometricPrecision"/>
<rect x="116.45" y="182.32" width="2.9" height="2.6" rx="0.9" fill="#fff" shape-rendering="geometricPrecision"/>
<rect x="116.45" y="188.14" width="2.9" height="2.6" rx="0.9" fill="#fff" shape-rendering="geometricPrecision"/>
<rect x="116.45" y="246.34" width="2.9" height="2.6" rx="0.9" fill="#fff" shape-rendering="geometricPrecision"/>
<rect x="116.45" y="252.16" width="2.9" height="2.6" rx="0.9" fill="#fff" shape-rendering="geometricPrecision"/>
<rect x="116.45" y="257.98" width="2.9" height="2.6" rx="0.9" fill="#fff" shape-rendering="geometricPrecision"/>
<rect x="122.27" y="176.50" width="2.9" height="2.6" rx="0.9" fill="#fff" shape-rendering="geometricPrecision"/>
<rect x="122.27" y="182.32" width="2.9" height="2.6" rx="0.9" fill="#fff" shape-rendering="geometricPrecision"/>
<rect x="122.27" y="188.14" width="2.9" height="2.6" rx="0.9" fill="#fff" shape-rendering="geometricPrecision"/>
<rect x="122.27" y="246.34" width="2.9" height="2.6" rx="0.9" fill="#fff" shape-rendering="geometricPrecision"/>
<rect x="122.27" y="252.16" width="2.9" height="2.6" rx="0.9" fill="#fff" shape-rendering="geometricPrecision"/>
<rect x="122.27" y="257.98" width="2.9" height="2.6" rx="0.9" fill="#fff" shape-rendering="geometricPrecision"/>
<rect x="128.09" y="176.50" width="2.9" height="2.6" rx="0.9" fill="#fff" shape-rendering="geometricPrecision"/>
<rect x="128.09" y="182.32" width="2.9" height="2.6" rx="0.9" fill="#fff" shape-rendering="geometricPrecision"/>
<rect x="128.09" y="188.14" width="2.9" height="2.6" rx="0.9" fill="#fff" shape-rendering="geometricPrecision"/>
<rect x="128.09" y="193.96" width="2.9" height="2.6" rx="0.9" fill="#fff" shape-rendering="geometricPrecision"/>
<rect x="128.09" y="199.78" width="2.9" height="2.6" rx="0.9" fill="#fff" shape-rendering="geometricPrecision"/>
<rect x="128.09" y="205.60" width="2.9" height="2.6" rx="0.9" fill="#fff" shape-rendering="geometricPrecision"/>
<rect x="128.09" y="211.42" width="2.9" height="2.6" rx="0.9" fill="#fff" shape-rendering="geometricPrecision"/>
<rect x="128.09" y="217.24" width="2.9" height="2.6" rx="0.9" fill="#fff" shape-rendering="geometricPrecision"/>
<rect x="128.09" y="223.06" width="2.9" height="2.6" rx="0.9" fill="#fff" shape-rendering="geometricPrecision"/>
<rect x="128.09" y="228.88" width="2.9" height="2.6" rx="0.9" fill="#fff" shape-rendering="geometricPrecision"/>
<rect x="128.09" y="234.70" width="2.9" height="2.6" rx="0.9" fill="#fff" shape-rendering="geometricPrecision"/>
<rect x="128.09" y="240.52" width="2.9" height="2.6" rx="0.9" fill="#fff" shape-rendering="geometricPrecision"/>
<rect x="128.09" y="246.34" width="2.9" height="2.6" rx="0.9" fill="#fff" shape-rendering="geometricPrecision"/>
<rect x="128.09" y="252.16" width="2.9" height="2.6" rx="0.9" fill="#fff" shape-rendering="geometricPrecision"/>
<rect x="128.09" y="257.98" width="2.9" height="2.6" rx="0.9" fill="#fff" shape-rendering="geometricPrecision"/>
<rect x="133.91" y="176.50" width="2.9" height="2.6" rx="0.9" fill="#fff" shape-rendering="geometricPrecision"/>
<rect x="133.91" y="182.32" width="2.9" height="2.6" rx="0.9" fill="#fff" shape-rendering="geometricPrecision"/>
<rect x="133.91" y="188.14" width="2.9" height="2.6" rx="0.9" fill="#fff" shape-rendering="geometricPrecision"/>
<rect x="133.91" y="193.96" width="2.9" height="2.6" rx="0.9" fill="#fff" shape-rendering="geometricPrecision"/>
<rect x="133.91" y="199.78" width="2.9" height="2.6" rx="0.9" fill="#fff" shape-rendering="geometricPrecision"/>
<rect x="133.91" y="205.60" width="2.9" height="2.6" rx="0.9" fill="#fff" shape-rendering="geometricPrecision"/>
<rect x="133.91" y="211.42" width="2.9" height="2.6" rx="0.9" fill="#fff" shape-rendering="geometricPrecision"/>
<rect x="133.91" y="217.24" width="2.9" height="2.6" rx="0.9" fill="#fff" shape-rendering="geometricPrecision"/>
<rect x="133.91" y="223.06" width="2.9" height="2.6" rx="0.9" fill="#fff" shape-rendering="geometricPrecision"/>
<rect x="133.91" y="228.88" width="2.9" height="2.6" rx="0.9" fill="#fff" shape-rendering="geometricPrecision"/>
<rect x="133.91" y="234.70" width="2.9" height="2.6" rx="0.9" fill="#fff" shape-rendering="geometricPrecision"/>
<rect x="133.91" y="240.52" width="2.9" height="2.6" rx="0.9" fill="#fff" shape-rendering="geometricPrecision"/>
<rect x="133.91" y="246.34" width="2.9" height="2.6" rx="0.9" fill="#fff" shape-rendering="geometricPrecision"/>
<rect x="133.91" y="252.16" width="2.9" height="2.6" rx="0.9" fill="#fff" shape-rendering="geometricPrecision"/>
<rect x="133.91" y="257.98" width="2.9" height="2.6" rx="0.9" fill="#fff" shape-rendering="geometricPrecision"/>
<rect x="139.73" y="176.50" width="2.9" height="2.6" rx="0.9" fill="#fff" shape-rendering="geometricPrecision"/>
<rect x="139.73" y="182.32" width="2.9" height="2.6" rx="0.9" fill="#fff" shape-rendering="geometricPrecision"/>
<rect x="139.73" y="188.14" width="2.9" height="2.6" rx="0.9" fill="#fff" shape-rendering="geometricPrecision"/>
<rect x="139.73" y="193.96" width="2.9" height="2.6" rx="0.9" fill="#fff" shape-rendering="geometricPrecision"/>
<rect x="139.73" y="199.78" width="2.9" height="2.6" rx="0.9" fill="#fff" shape-rendering="geometricPrecision"/>
<rect x="139.73" y="205.60" width="2.9" height="2.6" rx="0.9" fill="#fff" shape-rendering="geometricPrecision"/>
<rect x="139.73" y="211.42" width="2.9" height="2.6" rx="0.9" fill="#fff" shape-rendering="geometricPrecision"/>
<rect x="139.73" y="217.24" width="2.9" height="2.6" rx="0.9" fill="#fff" shape-rendering="geometricPrecision"/>
<rect x="139.73" y="223.06" width="2.9" height="2.6" rx="0.9" fill="#fff" shape-rendering="geometricPrecision"/>
<rect x="139.73" y="228.88" width="2.9" height="2.6" rx="0.9" fill="#fff" shape-rendering="geometricPrecision"/>
<rect x="139.73" y="234.70" width="2.9" height="2.6" rx="0.9" fill="#fff" shape-rendering="geometricPrecision"/>
<rect x="139.73" y="240.52" width="2.9" height="2.6" rx="0.9" fill="#fff" shape-rendering="geometricPrecision"/>
<rect x="139.73" y="246.34" width="2.9" height="2.6" rx="0.9" fill="#fff" shape-rendering="geometricPrecision"/>
<rect x="139.73" y="252.16" width="2.9" height="2.6" rx="0.9" fill="#fff" shape-rendering="geometricPrecision"/>
<rect x="139.73" y="257.98" width="2.9" height="2.6" rx="0.9" fill="#fff" shape-rendering="geometricPrecision"/>
<circle cx="118.6" cy="199.1" r="2.4" fill="#000" shape-rendering="geometricPrecision"/>
<rect x="85" y="209.6" width="31.4" height="17.2" rx="3.2" fill="#fff" stroke="#000" stroke-width="1.4" shape-rendering="geometricPrecision"/>
<text transform="translate(87.8,223) scale(0.75,1)" font-size="14" letter-spacing="3.2" >NPU</text>
<polygon points="48,274 155,274 155,371.5 146,381 48,381" fill="#000" stroke="none" stroke-width="1" shape-rendering="geometricPrecision"/>
<circle cx="144" cy="369.8" r="4.1" fill="#fff" shape-rendering="geometricPrecision"/>
<rect x="88.1" y="320.4" width="27.8" height="14.4" rx="1.5" fill="#fff" shape-rendering="geometricPrecision"/>
<text transform="translate(88.8,332) scale(0.75,1)" font-size="14" letter-spacing="3" >CPU</text>
<polygon points="176.032,339.16 177.68,341.5 179.558,342.5 179.091,343.799 179.536,349.098 180.996,354.28 181.5,358.6 182.9,358.6 183.596,354.28 185.286,349.098 185.966,343.799 185.558,342.5 187.48,341.5 189.232,339.16" fill="#000" stroke="none" stroke-width="1" shape-rendering="geometricPrecision"/>
<rect x="170.1" y="323.8" width="25.7" height="17.9" rx="3" fill="#000" shape-rendering="geometricPrecision"/>
<rect x="172.2" y="325.9" width="21.9" height="13.8" rx="1.5" fill="#fff" shape-rendering="geometricPrecision"/>
<polygon points="178.498,338.44 180.13,341.5 182.008,342.5 181.729,343.799 182.049,349.098 182.318,351.04 182.418,351.04 182.774,349.098 183.329,343.799 183.108,342.5 185.03,341.5 186.798,338.44" fill="#fff" stroke="none" stroke-width="1" shape-rendering="geometricPrecision"/>
<text transform="translate(176.6,336) scale(0.75,1)" font-size="12.8" letter-spacing="4.6" >J1</text>
<rect x="175" y="359" width="13" height="7" fill="#000" />
<rect x="181" y="361" width="1" height="4" fill="#fff" />
<rect x="13" y="396" width="84" height="25" fill="#000" />
<rect x="15.1" y="398" width="3.3" height="5" fill="#fff" shape-rendering="geometricPrecision"/>
<rect x="15.1" y="414" width="3.3" height="5" fill="#fff" shape-rendering="geometricPrecision"/>
<rect x="20.95" y="398" width="3.3" height="5" fill="#fff" shape-rendering="geometricPrecision"/>
<rect x="20.95" y="414" width="3.3" height="5" fill="#fff" shape-rendering="geometricPrecision"/>
<rect x="26.8" y="398" width="3.3" height="5" fill="#fff" shape-rendering="geometricPrecision"/>
<rect x="26.8" y="414" width="3.3" height="5" fill="#fff" shape-rendering="geometricPrecision"/>
<rect x="32.65" y="398" width="3.3" height="5" fill="#fff" shape-rendering="geometricPrecision"/>
<rect x="32.65" y="414" width="3.3" height="5" fill="#fff" shape-rendering="geometricPrecision"/>
<rect x="38.5" y="398" width="3.3" height="5" fill="#fff" shape-rendering="geometricPrecision"/>
<rect x="38.5" y="414" width="3.3" height="5" fill="#fff" shape-rendering="geometricPrecision"/>
<rect x="44.35" y="398" width="3.3" height="5" fill="#fff" shape-rendering="geometricPrecision"/>
<rect x="44.35" y="414" width="3.3" height="5" fill="#fff" shape-rendering="geometricPrecision"/>
<rect x="50.2" y="398" width="3.3" height="5" fill="#fff" shape-rendering="geometricPrecision"/>
<rect x="50.2" y="414" width="3.3" height="5" fill="#fff" shape-rendering="geometricPrecision"/>
<rect x="56.05" y="398" width="3.3" height="5" fill="#fff" shape-rendering="geometricPrecision"/>
<rect x="56.05" y="414" width="3.3" height="5" fill="#fff" shape-rendering="geometricPrecision"/>
<rect x="61.9" y="398" width="3.3" height="5" fill="#fff" shape-rendering="geometricPrecision"/>
<rect x="61.9" y="414" width="3.3" height="5" fill="#fff" shape-rendering="geometricPrecision"/>
<rect x="67.75" y="398" width="3.3" height="5" fill="#fff" shape-rendering="geometricPrecision"/>
<rect x="67.75" y="414" width="3.3" height="5" fill="#fff" shape-rendering="geometricPrecision"/>
<rect x="73.6" y="398" width="3.3" height="5" fill="#fff" shape-rendering="geometricPrecision"/>
<rect x="73.6" y="414" width="3.3" height="5" fill="#fff" shape-rendering="geometricPrecision"/>
<rect x="79.45" y="398" width="3.3" height="5" fill="#fff" shape-rendering="geometricPrecision"/>
<rect x="79.45" y="414" width="3.3" height="5" fill="#fff" shape-rendering="geometricPrecision"/>
<rect x="85.3" y="398" width="3.3" height="5" fill="#fff" shape-rendering="geometricPrecision"/>
<rect x="85.3" y="414" width="3.3" height="5" fill="#fff" shape-rendering="geometricPrecision"/>
<rect x="91.15" y="398" width="3.3" height="5" fill="#fff" shape-rendering="geometricPrecision"/>
<rect x="91.15" y="414" width="3.3" height="5" fill="#fff" shape-rendering="geometricPrecision"/>
<rect x="18" y="406" width="33" height="5" fill="#fff" shape-rendering="geometricPrecision"/>
<rect x="56" y="406" width="34" height="5" fill="#fff" shape-rendering="geometricPrecision"/>
<polygon points="97.2,406.3 94.2,408.4 97.2,410.5" fill="#fff" stroke="none" stroke-width="1" shape-rendering="geometricPrecision"/>
<rect x="13" y="422" width="84" height="25" fill="#000" />
<rect x="15.1" y="424" width="3.3" height="5" fill="#fff" shape-rendering="geometricPrecision"/>
<rect x="15.1" y="440" width="3.3" height="5" fill="#fff" shape-rendering="geometricPrecision"/>
<rect x="20.95" y="424" width="3.3" height="5" fill="#fff" shape-rendering="geometricPrecision"/>
<rect x="20.95" y="440" width="3.3" height="5" fill="#fff" shape-rendering="geometricPrecision"/>
<rect x="26.8" y="424" width="3.3" height="5" fill="#fff" shape-rendering="geometricPrecision"/>
<rect x="26.8" y="440" width="3.3" height="5" fill="#fff" shape-rendering="geometricPrecision"/>
<rect x="32.65" y="424" width="3.3" height="5" fill="#fff" shape-rendering="geometricPrecision"/>
<rect x="32.65" y="440" width="3.3" height="5" fill="#fff" shape-rendering="geometricPrecision"/>
<rect x="38.5" y="424" width="3.3" height="5" fill="#fff" shape-rendering="geometricPrecision"/>
<rect x="38.5" y="440" width="3.3" height="5" fill="#fff" shape-rendering="geometricPrecision"/>
<rect x="44.35" y="424" width="3.3" height="5" fill="#fff" shape-rendering="geometricPrecision"/>
<rect x="44.35" y="440" width="3.3" height="5" fill="#fff" shape-rendering="geometricPrecision"/>
<rect x="50.2" y="424" width="3.3" height="5" fill="#fff" shape-rendering="geometricPrecision"/>
<rect x="50.2" y="440" width="3.3" height="5" fill="#fff" shape-rendering="geometricPrecision"/>
<rect x="56.05" y="424" width="3.3" height="5" fill="#fff" shape-rendering="geometricPrecision"/>
<rect x="56.05" y="440" width="3.3" height="5" fill="#fff" shape-rendering="geometricPrecision"/>
<rect x="61.9" y="424" width="3.3" height="5" fill="#fff" shape-rendering="geometricPrecision"/>
<rect x="61.9" y="440" width="3.3" height="5" fill="#fff" shape-rendering="geometricPrecision"/>
<rect x="67.75" y="424" width="3.3" height="5" fill="#fff" shape-rendering="geometricPrecision"/>
<rect x="67.75" y="440" width="3.3" height="5" fill="#fff" shape-rendering="geometricPrecision"/>
<rect x="73.6" y="424" width="3.3" height="5" fill="#fff" shape-rendering="geometricPrecision"/>
<rect x="73.6" y="440" width="3.3" height="5" fill="#fff" shape-rendering="geometricPrecision"/>
<rect x="79.45" y="424" width="3.3" height="5" fill="#fff" shape-rendering="geometricPrecision"/>
<rect x="79.45" y="440" width="3.3" height="5" fill="#fff" shape-rendering="geometricPrecision"/>
<rect x="85.3" y="424" width="3.3" height="5" fill="#fff" shape-rendering="geometricPrecision"/>
<rect x="85.3" y="440" width="3.3" height="5" fill="#fff" shape-rendering="geometricPrecision"/>
<rect x="91.15" y="424" width="3.3" height="5" fill="#fff" shape-rendering="geometricPrecision"/>
<rect x="91.15" y="440" width="3.3" height="5" fill="#fff" shape-rendering="geometricPrecision"/>
<rect x="18" y="432" width="33" height="5" fill="#fff" shape-rendering="geometricPrecision"/>
<rect x="56" y="432" width="34" height="5" fill="#fff" shape-rendering="geometricPrecision"/>
<polygon points="97.2,432.3 94.2,434.4 97.2,436.5" fill="#fff" stroke="none" stroke-width="1" shape-rendering="geometricPrecision"/>
<rect x="13" y="448" width="84" height="25.3" fill="#000" />
<rect x="15.1" y="450.024" width="3.3" height="5.06" fill="#fff" shape-rendering="geometricPrecision"/>
<rect x="15.1" y="466.216" width="3.3" height="5.06" fill="#fff" shape-rendering="geometricPrecision"/>
<rect x="20.95" y="450.024" width="3.3" height="5.06" fill="#fff" shape-rendering="geometricPrecision"/>
<rect x="20.95" y="466.216" width="3.3" height="5.06" fill="#fff" shape-rendering="geometricPrecision"/>
<rect x="26.8" y="450.024" width="3.3" height="5.06" fill="#fff" shape-rendering="geometricPrecision"/>
<rect x="26.8" y="466.216" width="3.3" height="5.06" fill="#fff" shape-rendering="geometricPrecision"/>
<rect x="32.65" y="450.024" width="3.3" height="5.06" fill="#fff" shape-rendering="geometricPrecision"/>
<rect x="32.65" y="466.216" width="3.3" height="5.06" fill="#fff" shape-rendering="geometricPrecision"/>
<rect x="38.5" y="450.024" width="3.3" height="5.06" fill="#fff" shape-rendering="geometricPrecision"/>
<rect x="38.5" y="466.216" width="3.3" height="5.06" fill="#fff" shape-rendering="geometricPrecision"/>
<rect x="44.35" y="450.024" width="3.3" height="5.06" fill="#fff" shape-rendering="geometricPrecision"/>
<rect x="44.35" y="466.216" width="3.3" height="5.06" fill="#fff" shape-rendering="geometricPrecision"/>
<rect x="50.2" y="450.024" width="3.3" height="5.06" fill="#fff" shape-rendering="geometricPrecision"/>
<rect x="50.2" y="466.216" width="3.3" height="5.06" fill="#fff" shape-rendering="geometricPrecision"/>
<rect x="56.05" y="450.024" width="3.3" height="5.06" fill="#fff" shape-rendering="geometricPrecision"/>
<rect x="56.05" y="466.216" width="3.3" height="5.06" fill="#fff" shape-rendering="geometricPrecision"/>
<rect x="61.9" y="450.024" width="3.3" height="5.06" fill="#fff" shape-rendering="geometricPrecision"/>
<rect x="61.9" y="466.216" width="3.3" height="5.06" fill="#fff" shape-rendering="geometricPrecision"/>
<rect x="67.75" y="450.024" width="3.3" height="5.06" fill="#fff" shape-rendering="geometricPrecision"/>
<rect x="67.75" y="466.216" width="3.3" height="5.06" fill="#fff" shape-rendering="geometricPrecision"/>
<rect x="73.6" y="450.024" width="3.3" height="5.06" fill="#fff" shape-rendering="geometricPrecision"/>
<rect x="73.6" y="466.216" width="3.3" height="5.06" fill="#fff" shape-rendering="geometricPrecision"/>
<rect x="79.45" y="450.024" width="3.3" height="5.06" fill="#fff" shape-rendering="geometricPrecision"/>
<rect x="79.45" y="466.216" width="3.3" height="5.06" fill="#fff" shape-rendering="geometricPrecision"/>
<rect x="85.3" y="450.024" width="3.3" height="5.06" fill="#fff" shape-rendering="geometricPrecision"/>
<rect x="85.3" y="466.216" width="3.3" height="5.06" fill="#fff" shape-rendering="geometricPrecision"/>
<rect x="91.15" y="450.024" width="3.3" height="5.06" fill="#fff" shape-rendering="geometricPrecision"/>
<rect x="91.15" y="466.216" width="3.3" height="5.06" fill="#fff" shape-rendering="geometricPrecision"/>
<rect x="18" y="458.12" width="33" height="5.06" fill="#fff" shape-rendering="geometricPrecision"/>
<rect x="56" y="458.12" width="34" height="5.06" fill="#fff" shape-rendering="geometricPrecision"/>
<polygon points="97.2,458.424 94.2,460.549 97.2,462.674" fill="#fff" stroke="none" stroke-width="1" shape-rendering="geometricPrecision"/>
<rect x="13" y="474.6" width="84" height="24.2" fill="#000" />
<rect x="15.1" y="476.536" width="3.3" height="4.84" fill="#fff" shape-rendering="geometricPrecision"/>
<rect x="15.1" y="492.024" width="3.3" height="4.84" fill="#fff" shape-rendering="geometricPrecision"/>
<rect x="20.95" y="476.536" width="3.3" height="4.84" fill="#fff" shape-rendering="geometricPrecision"/>
<rect x="20.95" y="492.024" width="3.3" height="4.84" fill="#fff" shape-rendering="geometricPrecision"/>
<rect x="26.8" y="476.536" width="3.3" height="4.84" fill="#fff" shape-rendering="geometricPrecision"/>
<rect x="26.8" y="492.024" width="3.3" height="4.84" fill="#fff" shape-rendering="geometricPrecision"/>
<rect x="32.65" y="476.536" width="3.3" height="4.84" fill="#fff" shape-rendering="geometricPrecision"/>
<rect x="32.65" y="492.024" width="3.3" height="4.84" fill="#fff" shape-rendering="geometricPrecision"/>
<rect x="38.5" y="476.536" width="3.3" height="4.84" fill="#fff" shape-rendering="geometricPrecision"/>
<rect x="38.5" y="492.024" width="3.3" height="4.84" fill="#fff" shape-rendering="geometricPrecision"/>
<rect x="44.35" y="476.536" width="3.3" height="4.84" fill="#fff" shape-rendering="geometricPrecision"/>
<rect x="44.35" y="492.024" width="3.3" height="4.84" fill="#fff" shape-rendering="geometricPrecision"/>
<rect x="50.2" y="476.536" width="3.3" height="4.84" fill="#fff" shape-rendering="geometricPrecision"/>
<rect x="50.2" y="492.024" width="3.3" height="4.84" fill="#fff" shape-rendering="geometricPrecision"/>
<rect x="56.05" y="476.536" width="3.3" height="4.84" fill="#fff" shape-rendering="geometricPrecision"/>
<rect x="56.05" y="492.024" width="3.3" height="4.84" fill="#fff" shape-rendering="geometricPrecision"/>
<rect x="61.9" y="476.536" width="3.3" height="4.84" fill="#fff" shape-rendering="geometricPrecision"/>
<rect x="61.9" y="492.024" width="3.3" height="4.84" fill="#fff" shape-rendering="geometricPrecision"/>
<rect x="67.75" y="476.536" width="3.3" height="4.84" fill="#fff" shape-rendering="geometricPrecision"/>
<rect x="67.75" y="492.024" width="3.3" height="4.84" fill="#fff" shape-rendering="geometricPrecision"/>
<rect x="73.6" y="476.536" width="3.3" height="4.84" fill="#fff" shape-rendering="geometricPrecision"/>
<rect x="73.6" y="492.024" width="3.3" height="4.84" fill="#fff" shape-rendering="geometricPrecision"/>
<rect x="79.45" y="476.536" width="3.3" height="4.84" fill="#fff" shape-rendering="geometricPrecision"/>
<rect x="79.45" y="492.024" width="3.3" height="4.84" fill="#fff" shape-rendering="geometricPrecision"/>
<rect x="85.3" y="476.536" width="3.3" height="4.84" fill="#fff" shape-rendering="geometricPrecision"/>
<rect x="85.3" y="492.024" width="3.3" height="4.84" fill="#fff" shape-rendering="geometricPrecision"/>
<rect x="91.15" y="476.536" width="3.3" height="4.84" fill="#fff" shape-rendering="geometricPrecision"/>
<rect x="91.15" y="492.024" width="3.3" height="4.84" fill="#fff" shape-rendering="geometricPrecision"/>
<rect x="18" y="484.28" width="33" height="4.84" fill="#fff" shape-rendering="geometricPrecision"/>
<rect x="56" y="484.28" width="34" height="4.84" fill="#fff" shape-rendering="geometricPrecision"/>
<polygon points="97.2,484.57 94.2,486.603 97.2,488.636" fill="#fff" stroke="none" stroke-width="1" shape-rendering="geometricPrecision"/>
<rect x="103" y="396" width="84" height="25" fill="#000" />
<rect x="105.1" y="398" width="3.3" height="5" fill="#fff" shape-rendering="geometricPrecision"/>
<rect x="105.1" y="414" width="3.3" height="5" fill="#fff" shape-rendering="geometricPrecision"/>
<rect x="110.95" y="398" width="3.3" height="5" fill="#fff" shape-rendering="geometricPrecision"/>
<rect x="110.95" y="414" width="3.3" height="5" fill="#fff" shape-rendering="geometricPrecision"/>
<rect x="116.8" y="398" width="3.3" height="5" fill="#fff" shape-rendering="geometricPrecision"/>
<rect x="116.8" y="414" width="3.3" height="5" fill="#fff" shape-rendering="geometricPrecision"/>
<rect x="122.65" y="398" width="3.3" height="5" fill="#fff" shape-rendering="geometricPrecision"/>
<rect x="122.65" y="414" width="3.3" height="5" fill="#fff" shape-rendering="geometricPrecision"/>
<rect x="128.5" y="398" width="3.3" height="5" fill="#fff" shape-rendering="geometricPrecision"/>
<rect x="128.5" y="414" width="3.3" height="5" fill="#fff" shape-rendering="geometricPrecision"/>
<rect x="134.35" y="398" width="3.3" height="5" fill="#fff" shape-rendering="geometricPrecision"/>
<rect x="134.35" y="414" width="3.3" height="5" fill="#fff" shape-rendering="geometricPrecision"/>
<rect x="140.2" y="398" width="3.3" height="5" fill="#fff" shape-rendering="geometricPrecision"/>
<rect x="140.2" y="414" width="3.3" height="5" fill="#fff" shape-rendering="geometricPrecision"/>
<rect x="146.05" y="398" width="3.3" height="5" fill="#fff" shape-rendering="geometricPrecision"/>
<rect x="146.05" y="414" width="3.3" height="5" fill="#fff" shape-rendering="geometricPrecision"/>
<rect x="151.9" y="398" width="3.3" height="5" fill="#fff" shape-rendering="geometricPrecision"/>
<rect x="151.9" y="414" width="3.3" height="5" fill="#fff" shape-rendering="geometricPrecision"/>
<rect x="157.75" y="398" width="3.3" height="5" fill="#fff" shape-rendering="geometricPrecision"/>
<rect x="157.75" y="414" width="3.3" height="5" fill="#fff" shape-rendering="geometricPrecision"/>
<rect x="163.6" y="398" width="3.3" height="5" fill="#fff" shape-rendering="geometricPrecision"/>
<rect x="163.6" y="414" width="3.3" height="5" fill="#fff" shape-rendering="geometricPrecision"/>
<rect x="169.45" y="398" width="3.3" height="5" fill="#fff" shape-rendering="geometricPrecision"/>
<rect x="169.45" y="414" width="3.3" height="5" fill="#fff" shape-rendering="geometricPrecision"/>
<rect x="175.3" y="398" width="3.3" height="5" fill="#fff" shape-rendering="geometricPrecision"/>
<rect x="175.3" y="414" width="3.3" height="5" fill="#fff" shape-rendering="geometricPrecision"/>
<rect x="181.15" y="398" width="3.3" height="5" fill="#fff" shape-rendering="geometricPrecision"/>
<rect x="181.15" y="414" width="3.3" height="5" fill="#fff" shape-rendering="geometricPrecision"/>
<rect x="108" y="406" width="33" height="5" fill="#fff" shape-rendering="geometricPrecision"/>
<rect x="146" y="406" width="34" height="5" fill="#fff" shape-rendering="geometricPrecision"/>
<polygon points="187.2,406.3 184.2,408.4 187.2,410.5" fill="#fff" stroke="none" stroke-width="1" shape-rendering="geometricPrecision"/>
<rect x="103" y="422" width="84" height="25" fill="#000" />
<rect x="105.1" y="424" width="3.3" height="5" fill="#fff" shape-rendering="geometricPrecision"/>
<rect x="105.1" y="440" width="3.3" height="5" fill="#fff" shape-rendering="geometricPrecision"/>
<rect x="110.95" y="424" width="3.3" height="5" fill="#fff" shape-rendering="geometricPrecision"/>
<rect x="110.95" y="440" width="3.3" height="5" fill="#fff" shape-rendering="geometricPrecision"/>
<rect x="116.8" y="424" width="3.3" height="5" fill="#fff" shape-rendering="geometricPrecision"/>
<rect x="116.8" y="440" width="3.3" height="5" fill="#fff" shape-rendering="geometricPrecision"/>
<rect x="122.65" y="424" width="3.3" height="5" fill="#fff" shape-rendering="geometricPrecision"/>
<rect x="122.65" y="440" width="3.3" height="5" fill="#fff" shape-rendering="geometricPrecision"/>
<rect x="128.5" y="424" width="3.3" height="5" fill="#fff" shape-rendering="geometricPrecision"/>
<rect x="128.5" y="440" width="3.3" height="5" fill="#fff" shape-rendering="geometricPrecision"/>
<rect x="134.35" y="424" width="3.3" height="5" fill="#fff" shape-rendering="geometricPrecision"/>
<rect x="134.35" y="440" width="3.3" height="5" fill="#fff" shape-rendering="geometricPrecision"/>
<rect x="140.2" y="424" width="3.3" height="5" fill="#fff" shape-rendering="geometricPrecision"/>
<rect x="140.2" y="440" width="3.3" height="5" fill="#fff" shape-rendering="geometricPrecision"/>
<rect x="146.05" y="424" width="3.3" height="5" fill="#fff" shape-rendering="geometricPrecision"/>
<rect x="146.05" y="440" width="3.3" height="5" fill="#fff" shape-rendering="geometricPrecision"/>
<rect x="151.9" y="424" width="3.3" height="5" fill="#fff" shape-rendering="geometricPrecision"/>
<rect x="151.9" y="440" width="3.3" height="5" fill="#fff" shape-rendering="geometricPrecision"/>
<rect x="157.75" y="424" width="3.3" height="5" fill="#fff" shape-rendering="geometricPrecision"/>
<rect x="157.75" y="440" width="3.3" height="5" fill="#fff" shape-rendering="geometricPrecision"/>
<rect x="163.6" y="424" width="3.3" height="5" fill="#fff" shape-rendering="geometricPrecision"/>
<rect x="163.6" y="440" width="3.3" height="5" fill="#fff" shape-rendering="geometricPrecision"/>
<rect x="169.45" y="424" width="3.3" height="5" fill="#fff" shape-rendering="geometricPrecision"/>
<rect x="169.45" y="440" width="3.3" height="5" fill="#fff" shape-rendering="geometricPrecision"/>
<rect x="175.3" y="424" width="3.3" height="5" fill="#fff" shape-rendering="geometricPrecision"/>
<rect x="175.3" y="440" width="3.3" height="5" fill="#fff" shape-rendering="geometricPrecision"/>
<rect x="181.15" y="424" width="3.3" height="5" fill="#fff" shape-rendering="geometricPrecision"/>
<rect x="181.15" y="440" width="3.3" height="5" fill="#fff" shape-rendering="geometricPrecision"/>
<rect x="108" y="432" width="33" height="5" fill="#fff" shape-rendering="geometricPrecision"/>
<rect x="146" y="432" width="34" height="5" fill="#fff" shape-rendering="geometricPrecision"/>
<polygon points="187.2,432.3 184.2,434.4 187.2,436.5" fill="#fff" stroke="none" stroke-width="1" shape-rendering="geometricPrecision"/>
<rect x="103" y="448" width="84" height="25.3" fill="#000" />
<rect x="105.1" y="450.024" width="3.3" height="5.06" fill="#fff" shape-rendering="geometricPrecision"/>
<rect x="105.1" y="466.216" width="3.3" height="5.06" fill="#fff" shape-rendering="geometricPrecision"/>
<rect x="110.95" y="450.024" width="3.3" height="5.06" fill="#fff" shape-rendering="geometricPrecision"/>
<rect x="110.95" y="466.216" width="3.3" height="5.06" fill="#fff" shape-rendering="geometricPrecision"/>
<rect x="116.8" y="450.024" width="3.3" height="5.06" fill="#fff" shape-rendering="geometricPrecision"/>
<rect x="116.8" y="466.216" width="3.3" height="5.06" fill="#fff" shape-rendering="geometricPrecision"/>
<rect x="122.65" y="450.024" width="3.3" height="5.06" fill="#fff" shape-rendering="geometricPrecision"/>
<rect x="122.65" y="466.216" width="3.3" height="5.06" fill="#fff" shape-rendering="geometricPrecision"/>
<rect x="128.5" y="450.024" width="3.3" height="5.06" fill="#fff" shape-rendering="geometricPrecision"/>
<rect x="128.5" y="466.216" width="3.3" height="5.06" fill="#fff" shape-rendering="geometricPrecision"/>
<rect x="134.35" y="450.024" width="3.3" height="5.06" fill="#fff" shape-rendering="geometricPrecision"/>
<rect x="134.35" y="466.216" width="3.3" height="5.06" fill="#fff" shape-rendering="geometricPrecision"/>
<rect x="140.2" y="450.024" width="3.3" height="5.06" fill="#fff" shape-rendering="geometricPrecision"/>
<rect x="140.2" y="466.216" width="3.3" height="5.06" fill="#fff" shape-rendering="geometricPrecision"/>
<rect x="146.05" y="450.024" width="3.3" height="5.06" fill="#fff" shape-rendering="geometricPrecision"/>
<rect x="146.05" y="466.216" width="3.3" height="5.06" fill="#fff" shape-rendering="geometricPrecision"/>
<rect x="151.9" y="450.024" width="3.3" height="5.06" fill="#fff" shape-rendering="geometricPrecision"/>
<rect x="151.9" y="466.216" width="3.3" height="5.06" fill="#fff" shape-rendering="geometricPrecision"/>
<rect x="157.75" y="450.024" width="3.3" height="5.06" fill="#fff" shape-rendering="geometricPrecision"/>
<rect x="157.75" y="466.216" width="3.3" height="5.06" fill="#fff" shape-rendering="geometricPrecision"/>
<rect x="163.6" y="450.024" width="3.3" height="5.06" fill="#fff" shape-rendering="geometricPrecision"/>
<rect x="163.6" y="466.216" width="3.3" height="5.06" fill="#fff" shape-rendering="geometricPrecision"/>
<rect x="169.45" y="450.024" width="3.3" height="5.06" fill="#fff" shape-rendering="geometricPrecision"/>
<rect x="169.45" y="466.216" width="3.3" height="5.06" fill="#fff" shape-rendering="geometricPrecision"/>
<rect x="175.3" y="450.024" width="3.3" height="5.06" fill="#fff" shape-rendering="geometricPrecision"/>
<rect x="175.3" y="466.216" width="3.3" height="5.06" fill="#fff" shape-rendering="geometricPrecision"/>
<rect x="181.15" y="450.024" width="3.3" height="5.06" fill="#fff" shape-rendering="geometricPrecision"/>
<rect x="181.15" y="466.216" width="3.3" height="5.06" fill="#fff" shape-rendering="geometricPrecision"/>
<rect x="108" y="458.12" width="33" height="5.06" fill="#fff" shape-rendering="geometricPrecision"/>
<rect x="146" y="458.12" width="34" height="5.06" fill="#fff" shape-rendering="geometricPrecision"/>
<polygon points="187.2,458.424 184.2,460.549 187.2,462.674" fill="#fff" stroke="none" stroke-width="1" shape-rendering="geometricPrecision"/>
<rect x="103" y="474.6" width="84" height="24.2" fill="#000" />
<rect x="105.1" y="476.536" width="3.3" height="4.84" fill="#fff" shape-rendering="geometricPrecision"/>
<rect x="105.1" y="492.024" width="3.3" height="4.84" fill="#fff" shape-rendering="geometricPrecision"/>
<rect x="110.95" y="476.536" width="3.3" height="4.84" fill="#fff" shape-rendering="geometricPrecision"/>
<rect x="110.95" y="492.024" width="3.3" height="4.84" fill="#fff" shape-rendering="geometricPrecision"/>
<rect x="116.8" y="476.536" width="3.3" height="4.84" fill="#fff" shape-rendering="geometricPrecision"/>
<rect x="116.8" y="492.024" width="3.3" height="4.84" fill="#fff" shape-rendering="geometricPrecision"/>
<rect x="122.65" y="476.536" width="3.3" height="4.84" fill="#fff" shape-rendering="geometricPrecision"/>
<rect x="122.65" y="492.024" width="3.3" height="4.84" fill="#fff" shape-rendering="geometricPrecision"/>
<rect x="128.5" y="476.536" width="3.3" height="4.84" fill="#fff" shape-rendering="geometricPrecision"/>
<rect x="128.5" y="492.024" width="3.3" height="4.84" fill="#fff" shape-rendering="geometricPrecision"/>
<rect x="134.35" y="476.536" width="3.3" height="4.84" fill="#fff" shape-rendering="geometricPrecision"/>
<rect x="134.35" y="492.024" width="3.3" height="4.84" fill="#fff" shape-rendering="geometricPrecision"/>
<rect x="140.2" y="476.536" width="3.3" height="4.84" fill="#fff" shape-rendering="geometricPrecision"/>
<rect x="140.2" y="492.024" width="3.3" height="4.84" fill="#fff" shape-rendering="geometricPrecision"/>
<rect x="146.05" y="476.536" width="3.3" height="4.84" fill="#fff" shape-rendering="geometricPrecision"/>
<rect x="146.05" y="492.024" width="3.3" height="4.84" fill="#fff" shape-rendering="geometricPrecision"/>
<rect x="151.9" y="476.536" width="3.3" height="4.84" fill="#fff" shape-rendering="geometricPrecision"/>
<rect x="151.9" y="492.024" width="3.3" height="4.84" fill="#fff" shape-rendering="geometricPrecision"/>
<rect x="157.75" y="476.536" width="3.3" height="4.84" fill="#fff" shape-rendering="geometricPrecision"/>
<rect x="157.75" y="492.024" width="3.3" height="4.84" fill="#fff" shape-rendering="geometricPrecision"/>
<rect x="163.6" y="476.536" width="3.3" height="4.84" fill="#fff" shape-rendering="geometricPrecision"/>
<rect x="163.6" y="492.024" width="3.3" height="4.84" fill="#fff" shape-rendering="geometricPrecision"/>
<rect x="169.45" y="476.536" width="3.3" height="4.84" fill="#fff" shape-rendering="geometricPrecision"/>
<rect x="169.45" y="492.024" width="3.3" height="4.84" fill="#fff" shape-rendering="geometricPrecision"/>
<rect x="175.3" y="476.536" width="3.3" height="4.84" fill="#fff" shape-rendering="geometricPrecision"/>
<rect x="175.3" y="492.024" width="3.3" height="4.84" fill="#fff" shape-rendering="geometricPrecision"/>
<rect x="181.15" y="476.536" width="3.3" height="4.84" fill="#fff" shape-rendering="geometricPrecision"/>
<rect x="181.15" y="492.024" width="3.3" height="4.84" fill="#fff" shape-rendering="geometricPrecision"/>
<rect x="108" y="484.28" width="33" height="4.84" fill="#fff" shape-rendering="geometricPrecision"/>
<rect x="146" y="484.28" width="34" height="4.84" fill="#fff" shape-rendering="geometricPrecision"/>
<polygon points="187.2,484.57 184.2,486.603 187.2,488.636" fill="#fff" stroke="none" stroke-width="1" shape-rendering="geometricPrecision"/>
<rect x="75.4" y="439.6" width="47.2" height="15.2" rx="2.5" fill="#fff" stroke="#000" stroke-width="0.6" shape-rendering="geometricPrecision"/>
<text transform="translate(76.5,450.6) scale(0.75,1)" font-size="14" letter-spacing="2.6" >CACHE</text>
<rect x="102" y="507" width="19" height="6" fill="#000" />
<rect x="107" y="508" width="1" height="4" fill="#fff" />
<rect x="114" y="508" width="1" height="4" fill="#fff" />
<rect x="116" y="509" width="3" height="3" fill="#fff" />
<rect x="117" y="510" width="1" height="1" fill="#000" />
<polygon points="140.144,502.708 137.9,504.395 136.9,506.289 135.6,507.531 130.3,507.949 126.032,508.924 122,509.5 122,510.9 126.032,511.524 130.3,512.549 135.6,513.031 136.9,514.289 137.9,516.195 140.144,517.908" fill="#000" stroke="none" stroke-width="1" shape-rendering="geometricPrecision"/>
<rect x="137.4" y="501.1" width="32.4" height="18.5" rx="4" fill="#000" shape-rendering="geometricPrecision"/>
<rect x="139.7" y="503.2" width="28.1" height="14.2" rx="2.5" fill="#fff" shape-rendering="geometricPrecision"/>
<polygon points="140.816,504.712 137.9,506.395 136.9,508.289 135.6,509.281 130.3,509.599 129.056,510.182 129.056,510.302 130.3,510.899 135.6,511.281 136.9,512.289 137.9,514.195 140.816,515.912" fill="#fff" stroke="none" stroke-width="1" shape-rendering="geometricPrecision"/>
<text transform="translate(143.2,514) scale(0.75,1)" font-size="14" letter-spacing="2.6" >J11</text>
<polygon points="221,421 277,421 277,424 280,424 280,425 283,425 283,480 280,480 280,486 221,486 221,482 217,482 217,427 220,427 220,424 221,424" fill="#000" stroke="none" stroke-width="1" />
<rect x="228" y="421" width="1" height="2" fill="#fff" />
<rect x="231" y="421" width="1" height="2" fill="#fff" />
<rect x="234" y="421" width="1" height="2" fill="#fff" />
<rect x="237" y="421" width="1" height="2" fill="#fff" />
<rect x="248" y="421" width="1" height="2" fill="#fff" />
<rect x="251" y="421" width="1" height="2" fill="#fff" />
<rect x="254" y="421" width="1" height="2" fill="#fff" />
<rect x="257" y="421" width="1" height="2" fill="#fff" />
<rect x="268" y="421" width="1" height="2" fill="#fff" />
<rect x="271" y="421" width="1" height="2" fill="#fff" />
<rect x="274" y="421" width="1" height="2" fill="#fff" />
<rect x="277" y="421" width="1" height="2" fill="#fff" />
<rect x="224" y="484" width="1" height="2" fill="#fff" />
<rect x="227" y="484" width="1" height="2" fill="#fff" />
<rect x="230" y="484" width="1" height="2" fill="#fff" />
<rect x="243" y="484" width="1" height="2" fill="#fff" />
<rect x="246" y="484" width="1" height="2" fill="#fff" />
<rect x="249" y="484" width="1" height="2" fill="#fff" />
<rect x="260" y="484" width="1" height="2" fill="#fff" />
<rect x="263" y="484" width="1" height="2" fill="#fff" />
<rect x="266" y="484" width="1" height="2" fill="#fff" />
<rect x="217" y="435" width="3" height="1" fill="#fff" />
<rect x="217" y="438" width="3" height="1" fill="#fff" />
<rect x="217" y="441" width="3" height="1" fill="#fff" />
<rect x="217" y="452" width="3" height="1" fill="#fff" />
<rect x="217" y="455" width="3" height="1" fill="#fff" />
<rect x="217" y="458" width="3" height="1" fill="#fff" />
<rect x="217" y="466" width="3" height="1" fill="#fff" />
<rect x="217" y="469" width="3" height="1" fill="#fff" />
<rect x="217" y="472" width="3" height="1" fill="#fff" />
<rect x="280" y="431" width="3" height="1" fill="#fff" />
<rect x="280" y="434" width="3" height="1" fill="#fff" />
<rect x="280" y="437" width="3" height="1" fill="#fff" />
<rect x="280" y="448" width="3" height="1" fill="#fff" />
<rect x="280" y="451" width="3" height="1" fill="#fff" />
<rect x="280" y="454" width="3" height="1" fill="#fff" />
<rect x="280" y="465" width="3" height="1" fill="#fff" />
<rect x="280" y="468" width="3" height="1" fill="#fff" />
<rect x="280" y="471" width="3" height="1" fill="#fff" />
<circle cx="226.6" cy="476.8" r="2.0" fill="#fff" shape-rendering="geometricPrecision"/>
<polygon points="453,327 509,327 509,330 512,330 512,331 515,331 515,387 512,387 512,393 453,393 453,389 449,389 449,333 452,333 452,330 453,330" fill="#000" stroke="none" stroke-width="1" />
<rect x="460" y="327" width="1" height="2" fill="#fff" />
<rect x="463" y="327" width="1" height="2" fill="#fff" />
<rect x="466" y="327" width="1" height="2" fill="#fff" />
<rect x="469" y="327" width="1" height="2" fill="#fff" />
<rect x="480" y="327" width="1" height="2" fill="#fff" />
<rect x="483" y="327" width="1" height="2" fill="#fff" />
<rect x="486" y="327" width="1" height="2" fill="#fff" />
<rect x="489" y="327" width="1" height="2" fill="#fff" />
<rect x="500" y="327" width="1" height="2" fill="#fff" />
<rect x="503" y="327" width="1" height="2" fill="#fff" />
<rect x="506" y="327" width="1" height="2" fill="#fff" />
<rect x="509" y="327" width="1" height="2" fill="#fff" />
<rect x="456" y="391" width="1" height="2" fill="#fff" />
<rect x="459" y="391" width="1" height="2" fill="#fff" />
<rect x="462" y="391" width="1" height="2" fill="#fff" />
<rect x="475" y="391" width="1" height="2" fill="#fff" />
<rect x="478" y="391" width="1" height="2" fill="#fff" />
<rect x="481" y="391" width="1" height="2" fill="#fff" />
<rect x="492" y="391" width="1" height="2" fill="#fff" />
<rect x="495" y="391" width="1" height="2" fill="#fff" />
<rect x="498" y="391" width="1" height="2" fill="#fff" />
<rect x="449" y="341" width="3" height="1" fill="#fff" />
<rect x="449" y="344" width="3" height="1" fill="#fff" />
<rect x="449" y="347" width="3" height="1" fill="#fff" />
<rect x="449" y="358" width="3" height="1" fill="#fff" />
<rect x="449" y="361" width="3" height="1" fill="#fff" />
<rect x="449" y="364" width="3" height="1" fill="#fff" />
<rect x="449" y="372" width="3" height="1" fill="#fff" />
<rect x="449" y="375" width="3" height="1" fill="#fff" />
<rect x="449" y="378" width="3" height="1" fill="#fff" />
<rect x="512" y="337" width="3" height="1" fill="#fff" />
<rect x="512" y="340" width="3" height="1" fill="#fff" />
<rect x="512" y="343" width="3" height="1" fill="#fff" />
<rect x="512" y="354" width="3" height="1" fill="#fff" />
<rect x="512" y="357" width="3" height="1" fill="#fff" />
<rect x="512" y="360" width="3" height="1" fill="#fff" />
<rect x="512" y="371" width="3" height="1" fill="#fff" />
<rect x="512" y="374" width="3" height="1" fill="#fff" />
<rect x="512" y="377" width="3" height="1" fill="#fff" />
<circle cx="458.6" cy="383.8" r="2.0" fill="#fff" shape-rendering="geometricPrecision"/>
<rect x="533" y="19" width="202" height="20" fill="#000" shape-rendering="geometricPrecision"/>
<rect x="541" y="25.7" width="186" height="6.3" fill="#fff" shape-rendering="geometricPrecision"/>
<rect x="395" y="19" width="128" height="20" fill="#000" shape-rendering="geometricPrecision"/>
<rect x="403" y="25.7" width="113" height="6.3" fill="#fff" shape-rendering="geometricPrecision"/>
<rect x="533" y="64" width="202" height="20" fill="#000" shape-rendering="geometricPrecision"/>
<rect x="541" y="70.6" width="186" height="6.4" fill="#fff" shape-rendering="geometricPrecision"/>
<rect x="395" y="64" width="128" height="20" fill="#000" shape-rendering="geometricPrecision"/>
<rect x="403" y="70.6" width="113" height="6.4" fill="#fff" shape-rendering="geometricPrecision"/>
<rect x="533" y="108" width="202" height="20" fill="#000" shape-rendering="geometricPrecision"/>
<rect x="541" y="114.6" width="186" height="6.6" fill="#fff" shape-rendering="geometricPrecision"/>
<rect x="395" y="108" width="128" height="20" fill="#000" shape-rendering="geometricPrecision"/>
<rect x="403" y="114.6" width="113" height="6.6" fill="#fff" shape-rendering="geometricPrecision"/>
<rect x="533" y="152" width="202" height="20" fill="#000" shape-rendering="geometricPrecision"/>
<rect x="541" y="158.7" width="186" height="6.3" fill="#fff" shape-rendering="geometricPrecision"/>
<rect x="395" y="152" width="128" height="20" fill="#000" shape-rendering="geometricPrecision"/>
<rect x="403" y="158.7" width="113" height="6.3" fill="#fff" shape-rendering="geometricPrecision"/>
<rect x="533" y="196" width="202" height="19" fill="#000" shape-rendering="geometricPrecision"/>
<rect x="541" y="201.8" width="186" height="6.2" fill="#fff" shape-rendering="geometricPrecision"/>
<rect x="395" y="196" width="128" height="19" fill="#000" shape-rendering="geometricPrecision"/>
<rect x="403" y="201.8" width="113" height="6.2" fill="#fff" shape-rendering="geometricPrecision"/>
<rect x="533" y="240" width="202" height="20" fill="#000" shape-rendering="geometricPrecision"/>
<rect x="541" y="246.7" width="186" height="6.4" fill="#fff" shape-rendering="geometricPrecision"/>
<rect x="533" y="285" width="202" height="19" fill="#000" shape-rendering="geometricPrecision"/>
<rect x="541" y="291.8" width="186" height="5.3" fill="#fff" shape-rendering="geometricPrecision"/>
<rect x="395" y="285" width="128" height="19" fill="#000" shape-rendering="geometricPrecision"/>
<rect x="403" y="291.8" width="113" height="5.3" fill="#fff" shape-rendering="geometricPrecision"/>
<rect x="533" y="329" width="202" height="20" fill="#000" shape-rendering="geometricPrecision"/>
<rect x="541" y="335.8" width="186" height="6.4" fill="#fff" shape-rendering="geometricPrecision"/>
<rect x="216" y="239" width="279" height="19" fill="#000" shape-rendering="geometricPrecision"/>
<rect x="227" y="246" width="257" height="5" fill="#fff" shape-rendering="geometricPrecision"/>
<polygon points="196.64,241.724 198.9,243.384 199.9,245.266 201.2,245.694 206.499,246.05 210.92,246.972 215,247.5 215,248.9 210.92,249.572 206.499,250.65 201.2,251.194 199.9,251.666 198.9,253.584 196.64,255.324" fill="#000" stroke="none" stroke-width="1" shape-rendering="geometricPrecision"/>
<rect x="174.1" y="239" width="25" height="18.3" rx="3" fill="#000" shape-rendering="geometricPrecision"/>
<rect x="175.8" y="240.6" width="21.6" height="14.7" rx="1.5" fill="#fff" shape-rendering="geometricPrecision"/>
<polygon points="195.96,243.736 198.9,245.384 199.9,247.266 201.2,247.444 206.499,247.7 207.86,248.266 207.86,248.386 206.499,249 201.2,249.444 199.9,249.666 198.9,251.584 195.96,253.336" fill="#fff" stroke="none" stroke-width="1" shape-rendering="geometricPrecision"/>
<text transform="translate(178.2,252) scale(0.75,1)" font-size="14" letter-spacing="2.2" >S1</text>
<rect x="771" y="317" width="6" height="25" fill="#000" />
<rect x="772.5" y="322" width="3.5" height="2" fill="#fff" shape-rendering="geometricPrecision"/>
<rect x="772.5" y="327.7" width="3.5" height="2.1" fill="#fff" shape-rendering="geometricPrecision"/>
<rect x="772" y="334" width="4.4" height="0.9" fill="#fff" shape-rendering="geometricPrecision"/>
<rect x="773" y="335.9" width="2.5" height="3" fill="#fff" shape-rendering="geometricPrecision"/>
<rect x="772" y="340.1" width="4.4" height="0.9" fill="#fff" shape-rendering="geometricPrecision"/>
<polygon points="751.464,322.848 753.699,324.468 754.699,326.332 755.998,326.535 761.295,326.795 765.492,327.644 769.5,328.1 769.5,329.5 765.492,330.244 761.295,331.395 755.998,332.035 754.699,332.332 753.699,334.268 751.464,336.048" fill="#000" stroke="none" stroke-width="1" shape-rendering="geometricPrecision"/>
<rect x="728.3" y="320" width="25.6" height="18.6" rx="3.5" fill="#000" shape-rendering="geometricPrecision"/>
<rect x="729.9" y="321.9" width="22.4" height="13.9" rx="2" fill="#fff" shape-rendering="geometricPrecision"/>
<polygon points="750.796,324.872 753.699,326.468 754.699,328.332 755.998,328.285 761.295,328.445 762.486,328.992 762.486,329.112 761.295,329.745 755.998,330.285 754.699,330.332 753.699,332.268 750.796,334.072" fill="#fff" stroke="none" stroke-width="1" shape-rendering="geometricPrecision"/>
<text transform="translate(732.5,333.2) scale(0.75,1)" font-size="14" letter-spacing="1.6" >J2</text>
<rect x="593" y="376" width="88" height="41" fill="#000" />
<rect x="678.8" y="390" width="2.4" height="11.7" fill="#fff" shape-rendering="geometricPrecision"/>
<rect x="595" y="414" width="4" height="1" fill="#fff" />
<rect x="601" y="414" width="4" height="1" fill="#fff" />
<rect x="608" y="414" width="4" height="1" fill="#fff" />
<rect x="614" y="414" width="4" height="1" fill="#fff" />
<rect x="620" y="414" width="4" height="1" fill="#fff" />
<rect x="627" y="414" width="4" height="1" fill="#fff" />
<rect x="633" y="414" width="4" height="1" fill="#fff" />
<rect x="640" y="414" width="4" height="1" fill="#fff" />
<rect x="646" y="414" width="4" height="1" fill="#fff" />
<rect x="652" y="414" width="4" height="1" fill="#fff" />
<rect x="659" y="414" width="4" height="1" fill="#fff" />
<rect x="665" y="414" width="4" height="1" fill="#fff" />
<rect x="672" y="414" width="4" height="1" fill="#fff" />
<rect x="678" y="414" width="1" height="1" fill="#fff" />
<rect x="616.9" y="388.8" width="40.2" height="14.1" fill="#fff" shape-rendering="geometricPrecision"/>
<text transform="translate(622,400.7) scale(0.75,1)" font-size="14" letter-spacing="2.2" >BIOS</text>
<rect x="593" y="431" width="126" height="43" fill="#000" />
<rect x="717.4" y="445.6" width="1.8" height="13.7" fill="#fff" shape-rendering="geometricPrecision"/>
<rect x="595" y="433" width="4" height="1" fill="#fff" />
<rect x="601" y="433" width="4" height="1" fill="#fff" />
<rect x="608" y="433" width="4" height="1" fill="#fff" />
<rect x="614" y="433" width="4" height="1" fill="#fff" />
<rect x="621" y="433" width="4" height="1" fill="#fff" />
<rect x="627" y="433" width="4" height="1" fill="#fff" />
<rect x="633" y="433" width="4" height="1" fill="#fff" />
<rect x="640" y="433" width="4" height="1" fill="#fff" />
<rect x="646" y="433" width="4" height="1" fill="#fff" />
<rect x="653" y="433" width="4" height="1" fill="#fff" />
<rect x="659" y="433" width="4" height="1" fill="#fff" />
<rect x="665" y="433" width="4" height="1" fill="#fff" />
<rect x="672" y="433" width="4" height="1" fill="#fff" />
<rect x="678" y="433" width="4" height="1" fill="#fff" />
<rect x="685" y="433" width="4" height="1" fill="#fff" />
<rect x="691" y="433" width="4" height="1" fill="#fff" />
<rect x="697" y="433" width="4" height="1" fill="#fff" />
<rect x="704" y="433" width="4" height="1" fill="#fff" />
<rect x="710" y="433" width="4" height="1" fill="#fff" />
<rect x="717" y="433" width="1" height="1" fill="#fff" />
<rect x="595" y="471" width="4" height="1" fill="#fff" />
<rect x="601" y="471" width="4" height="1" fill="#fff" />
<rect x="608" y="471" width="4" height="1" fill="#fff" />
<rect x="614" y="471" width="4" height="1" fill="#fff" />
<rect x="621" y="471" width="4" height="1" fill="#fff" />
<rect x="627" y="471" width="4" height="1" fill="#fff" />
<rect x="633" y="471" width="4" height="1" fill="#fff" />
<rect x="640" y="471" width="4" height="1" fill="#fff" />
<rect x="646" y="471" width="4" height="1" fill="#fff" />
<rect x="653" y="471" width="4" height="1" fill="#fff" />
<rect x="659" y="471" width="4" height="1" fill="#fff" />
<rect x="665" y="471" width="4" height="1" fill="#fff" />
<rect x="672" y="471" width="4" height="1" fill="#fff" />
<rect x="678" y="471" width="4" height="1" fill="#fff" />
<rect x="685" y="471" width="4" height="1" fill="#fff" />
<rect x="691" y="471" width="4" height="1" fill="#fff" />
<rect x="697" y="471" width="4" height="1" fill="#fff" />
<rect x="704" y="471" width="4" height="1" fill="#fff" />
<rect x="710" y="471" width="4" height="1" fill="#fff" />
<rect x="717" y="471" width="1" height="1" fill="#fff" />
<rect x="641.9" y="444.7" width="28.1" height="15.1" rx="2" fill="#fff" shape-rendering="geometricPrecision"/>
<text transform="translate(644.2,456.8) scale(0.75,1)" font-size="14" letter-spacing="2.6" >KBD</text>
<path d="M700,378.4 H719.4 L720.4,379.4 V404.6 H699 V379.4 Z" fill="url(#dots)" stroke="#000" stroke-width="1.2" shape-rendering="geometricPrecision"/>
<rect x="697.8" y="403.6" width="23.3" height="2.2" fill="#000" shape-rendering="geometricPrecision"/>
<rect x="701.9" y="405" width="1" height="7.2" fill="#000" shape-rendering="geometricPrecision"/>
<rect x="716" y="405" width="1" height="7.2" fill="#000" shape-rendering="geometricPrecision"/>
<path d="M754.5,365.6 H777.8 Q780.4,367 780,370.5 Q779.6,373.2 778.4,374 V383.6 Q779.8,384.4 779.8,385.6 Q779.8,386.8 778.4,387.6 V397.4 Q780.2,398.6 780,401.5 Q779.4,404.6 776,405.6 H757.2 Q753,404.8 752.4,401.5 Q752,398.6 753.8,397.4 V387.6 Q752.4,386.8 752.4,385.6 Q752.4,384.4 753.8,383.6 V374 Q752.4,373.2 752.2,370.5 Q752,367 754.5,365.6 Z" fill="url(#dots)" stroke="#000" stroke-width="1.2" shape-rendering="geometricPrecision"/>
<rect x="755" y="435" width="31" height="37" fill="#000" />
<rect x="779" y="431" width="7" height="46" fill="#000" />
<rect x="782" y="428" width="4" height="51" fill="#000" />
<rect x="753" y="441" width="2.5" height="25" fill="#000" />
<rect x="754" y="443" width="1" height="1" fill="#fff" shape-rendering="geometricPrecision"/>
<rect x="754" y="445" width="1" height="1" fill="#fff" shape-rendering="geometricPrecision"/>
<rect x="754" y="447" width="1" height="1" fill="#fff" shape-rendering="geometricPrecision"/>
<rect x="754" y="449" width="1" height="1" fill="#fff" shape-rendering="geometricPrecision"/>
<rect x="754" y="451" width="1" height="1" fill="#fff" shape-rendering="geometricPrecision"/>
<rect x="754" y="453" width="1" height="1" fill="#fff" shape-rendering="geometricPrecision"/>
<rect x="754" y="455" width="1" height="1" fill="#fff" shape-rendering="geometricPrecision"/>
<rect x="754" y="457" width="1" height="1" fill="#fff" shape-rendering="geometricPrecision"/>
<rect x="754" y="459" width="1" height="1" fill="#fff" shape-rendering="geometricPrecision"/>
<rect x="754" y="461" width="1" height="1" fill="#fff" shape-rendering="geometricPrecision"/>
<rect x="754" y="463" width="1" height="1" fill="#fff" shape-rendering="geometricPrecision"/>
<rect x="749.4" y="444.4" width="3.6" height="6.6" fill="#fff" stroke="#000" stroke-width="1" shape-rendering="geometricPrecision"/>
<rect x="749.4" y="455.6" width="3.6" height="7.8" fill="#fff" stroke="#000" stroke-width="1" shape-rendering="geometricPrecision"/>
<rect x="754" y="451" width="2.4" height="4.8" fill="#fff" shape-rendering="geometricPrecision"/>
<rect x="601" y="492" width="113" height="25" fill="#000" />
<rect x="602" y="493" width="111" height="23" fill="#fff" />
<rect x="601" y="508" width="113" height="1" fill="#000" />
<rect x="607" y="495" width="7" height="8" fill="#000" />
<rect x="608" y="496" width="5" height="6" fill="#fff" />
<rect x="617" y="495" width="8" height="8" fill="#000" />
<rect x="618" y="496" width="6" height="6" fill="#fff" />
<rect x="626" y="495" width="8" height="8" fill="#000" />
<rect x="627" y="496" width="6" height="6" fill="#fff" />
<rect x="635" y="495" width="8" height="8" fill="#000" />
<rect x="636" y="496" width="6" height="6" fill="#fff" />
<rect x="645" y="495" width="8" height="8" fill="#000" />
<rect x="646" y="496" width="6" height="6" fill="#fff" />
<rect x="654" y="495" width="8" height="8" fill="#000" />
<rect x="655" y="496" width="6" height="6" fill="#fff" />
<rect x="663" y="495" width="8" height="8" fill="#000" />
<rect x="664" y="496" width="6" height="6" fill="#fff" />
<rect x="672" y="495" width="8" height="8" fill="#000" />
<rect x="673" y="496" width="6" height="6" fill="#fff" />
<rect x="682" y="495" width="8" height="8" fill="#000" />
<rect x="683" y="496" width="6" height="6" fill="#fff" />
<rect x="691" y="495" width="8" height="8" fill="#000" />
<rect x="692" y="496" width="6" height="6" fill="#fff" />
<rect x="701" y="495" width="7" height="8" fill="#000" />
<rect x="702" y="496" width="5" height="6" fill="#fff" />
<rect x="603" y="504" width="8" height="2" fill="#000" />
<rect x="605" y="509" width="4" height="1" fill="#000" />
<rect x="604" y="510" width="6" height="1" fill="#000" />
<rect x="603" y="511" width="8" height="1" fill="#000" />
<rect x="604" y="511" width="6" height="1" fill="#fff" />
<rect x="603" y="512" width="8" height="1" fill="#000" />
<rect x="605" y="513" width="4" height="1" fill="#000" />
<rect x="603" y="510.5" width="1" height="0.5" fill="#000" shape-rendering="geometricPrecision"/>
<rect x="610" y="510.5" width="1" height="0.5" fill="#000" shape-rendering="geometricPrecision"/>
<rect x="612" y="504" width="8" height="2" fill="#000" />
<rect x="614" y="509" width="4" height="1" fill="#000" />
<rect x="613" y="510" width="6" height="1" fill="#000" />
<rect x="612" y="511" width="8" height="1" fill="#000" />
<rect x="613" y="511" width="6" height="1" fill="#fff" />
<rect x="612" y="512" width="8" height="1" fill="#000" />
<rect x="614" y="513" width="4" height="1" fill="#000" />
<rect x="612" y="510.5" width="1" height="0.5" fill="#000" shape-rendering="geometricPrecision"/>
<rect x="619" y="510.5" width="1" height="0.5" fill="#000" shape-rendering="geometricPrecision"/>
<rect x="622" y="504" width="8" height="2" fill="#000" />
<rect x="624" y="509" width="4" height="1" fill="#000" />
<rect x="623" y="510" width="6" height="1" fill="#000" />
<rect x="622" y="511" width="8" height="1" fill="#000" />
<rect x="623" y="511" width="6" height="1" fill="#fff" />
<rect x="622" y="512" width="8" height="1" fill="#000" />
<rect x="624" y="513" width="4" height="1" fill="#000" />
<rect x="622" y="510.5" width="1" height="0.5" fill="#000" shape-rendering="geometricPrecision"/>
<rect x="629" y="510.5" width="1" height="0.5" fill="#000" shape-rendering="geometricPrecision"/>
<rect x="631" y="504" width="8" height="2" fill="#000" />
<rect x="633" y="509" width="4" height="1" fill="#000" />
<rect x="632" y="510" width="6" height="1" fill="#000" />
<rect x="631" y="511" width="8" height="1" fill="#000" />
<rect x="632" y="511" width="6" height="1" fill="#fff" />
<rect x="631" y="512" width="8" height="1" fill="#000" />
<rect x="633" y="513" width="4" height="1" fill="#000" />
<rect x="631" y="510.5" width="1" height="0.5" fill="#000" shape-rendering="geometricPrecision"/>
<rect x="638" y="510.5" width="1" height="0.5" fill="#000" shape-rendering="geometricPrecision"/>
<rect x="640" y="504" width="8" height="2" fill="#000" />
<rect x="642" y="509" width="4" height="1" fill="#000" />
<rect x="641" y="510" width="6" height="1" fill="#000" />
<rect x="640" y="511" width="8" height="1" fill="#000" />
<rect x="641" y="511" width="6" height="1" fill="#fff" />
<rect x="640" y="512" width="8" height="1" fill="#000" />
<rect x="642" y="513" width="4" height="1" fill="#000" />
<rect x="640" y="510.5" width="1" height="0.5" fill="#000" shape-rendering="geometricPrecision"/>
<rect x="647" y="510.5" width="1" height="0.5" fill="#000" shape-rendering="geometricPrecision"/>
<rect x="650" y="504" width="8" height="2" fill="#000" />
<rect x="652" y="509" width="4" height="1" fill="#000" />
<rect x="651" y="510" width="6" height="1" fill="#000" />
<rect x="650" y="511" width="8" height="1" fill="#000" />
<rect x="651" y="511" width="6" height="1" fill="#fff" />
<rect x="650" y="512" width="8" height="1" fill="#000" />
<rect x="652" y="513" width="4" height="1" fill="#000" />
<rect x="650" y="510.5" width="1" height="0.5" fill="#000" shape-rendering="geometricPrecision"/>
<rect x="657" y="510.5" width="1" height="0.5" fill="#000" shape-rendering="geometricPrecision"/>
<rect x="659" y="504" width="8" height="2" fill="#000" />
<rect x="661" y="509" width="4" height="1" fill="#000" />
<rect x="660" y="510" width="6" height="1" fill="#000" />
<rect x="659" y="511" width="8" height="1" fill="#000" />
<rect x="660" y="511" width="6" height="1" fill="#fff" />
<rect x="659" y="512" width="8" height="1" fill="#000" />
<rect x="661" y="513" width="4" height="1" fill="#000" />
<rect x="659" y="510.5" width="1" height="0.5" fill="#000" shape-rendering="geometricPrecision"/>
<rect x="666" y="510.5" width="1" height="0.5" fill="#000" shape-rendering="geometricPrecision"/>
<rect x="668" y="504" width="8" height="2" fill="#000" />
<rect x="670" y="509" width="4" height="1" fill="#000" />
<rect x="669" y="510" width="6" height="1" fill="#000" />
<rect x="668" y="511" width="8" height="1" fill="#000" />
<rect x="669" y="511" width="6" height="1" fill="#fff" />
<rect x="668" y="512" width="8" height="1" fill="#000" />
<rect x="670" y="513" width="4" height="1" fill="#000" />
<rect x="668" y="510.5" width="1" height="0.5" fill="#000" shape-rendering="geometricPrecision"/>
<rect x="675" y="510.5" width="1" height="0.5" fill="#000" shape-rendering="geometricPrecision"/>
<rect x="677" y="504" width="8" height="2" fill="#000" />
<rect x="679" y="509" width="4" height="1" fill="#000" />
<rect x="678" y="510" width="6" height="1" fill="#000" />
<rect x="677" y="511" width="8" height="1" fill="#000" />
<rect x="678" y="511" width="6" height="1" fill="#fff" />
<rect x="677" y="512" width="8" height="1" fill="#000" />
<rect x="679" y="513" width="4" height="1" fill="#000" />
<rect x="677" y="510.5" width="1" height="0.5" fill="#000" shape-rendering="geometricPrecision"/>
<rect x="684" y="510.5" width="1" height="0.5" fill="#000" shape-rendering="geometricPrecision"/>
<rect x="687" y="504" width="8" height="2" fill="#000" />
<rect x="689" y="509" width="4" height="1" fill="#000" />
<rect x="688" y="510" width="6" height="1" fill="#000" />
<rect x="687" y="511" width="8" height="1" fill="#000" />
<rect x="688" y="511" width="6" height="1" fill="#fff" />
<rect x="687" y="512" width="8" height="1" fill="#000" />
<rect x="689" y="513" width="4" height="1" fill="#000" />
<rect x="687" y="510.5" width="1" height="0.5" fill="#000" shape-rendering="geometricPrecision"/>
<rect x="694" y="510.5" width="1" height="0.5" fill="#000" shape-rendering="geometricPrecision"/>
<rect x="696" y="504" width="8" height="2" fill="#000" />
<rect x="698" y="509" width="4" height="1" fill="#000" />
<rect x="697" y="510" width="6" height="1" fill="#000" />
<rect x="696" y="511" width="8" height="1" fill="#000" />
<rect x="697" y="511" width="6" height="1" fill="#fff" />
<rect x="696" y="512" width="8" height="1" fill="#000" />
<rect x="698" y="513" width="4" height="1" fill="#000" />
<rect x="696" y="510.5" width="1" height="0.5" fill="#000" shape-rendering="geometricPrecision"/>
<rect x="703" y="510.5" width="1" height="0.5" fill="#000" shape-rendering="geometricPrecision"/>
<rect x="705" y="504" width="8" height="2" fill="#000" />
<rect x="707" y="509" width="4" height="1" fill="#000" />
<rect x="706" y="510" width="6" height="1" fill="#000" />
<rect x="705" y="511" width="8" height="1" fill="#000" />
<rect x="706" y="511" width="6" height="1" fill="#fff" />
<rect x="705" y="512" width="8" height="1" fill="#000" />
<rect x="707" y="513" width="4" height="1" fill="#000" />
<rect x="705" y="510.5" width="1" height="0.5" fill="#000" shape-rendering="geometricPrecision"/>
<rect x="712" y="510.5" width="1" height="0.5" fill="#000" shape-rendering="geometricPrecision"/>
<rect x="601" y="495" width="4" height="3" fill="#000" />
<rect x="601" y="496" width="3" height="1" fill="#fff" />
<rect x="601" y="500" width="4" height="3" fill="#000" />
<rect x="601" y="501" width="3" height="1" fill="#fff" />
<rect x="601" y="497" width="1" height="4" fill="#fff" />
<rect x="603" y="497" width="1" height="4" fill="#000" />
<rect x="710" y="495" width="4" height="3" fill="#000" />
<rect x="711" y="496" width="3" height="1" fill="#fff" />
<rect x="710" y="500" width="4" height="3" fill="#000" />
<rect x="711" y="501" width="3" height="1" fill="#fff" />
<rect x="713" y="497" width="1" height="4" fill="#fff" />
<rect x="711" y="497" width="1" height="4" fill="#000" />
<rect x="526" y="438" width="51" height="30" fill="#000" />
<rect x="527.9" y="440" width="47.6" height="26" rx="3.5" fill="#fff" shape-rendering="geometricPrecision"/>
<rect x="527" y="439" width="1.4" height="1.4" fill="#fff" shape-rendering="geometricPrecision"/>
<rect x="574.6" y="439" width="1.4" height="1.4" fill="#fff" shape-rendering="geometricPrecision"/>
<rect x="527" y="465.6" width="1.4" height="1.4" fill="#fff" shape-rendering="geometricPrecision"/>
<rect x="574.6" y="465.6" width="1.4" height="1.4" fill="#fff" shape-rendering="geometricPrecision"/>
<rect x="472" y="478" width="52" height="30" fill="#000" />
<rect x="473.9" y="480" width="48.6" height="26" rx="3.5" fill="#fff" shape-rendering="geometricPrecision"/>
<rect x="473" y="479" width="1.4" height="1.4" fill="#fff" shape-rendering="geometricPrecision"/>
<rect x="521.6" y="479" width="1.4" height="1.4" fill="#fff" shape-rendering="geometricPrecision"/>
<rect x="473" y="505.6" width="1.4" height="1.4" fill="#fff" shape-rendering="geometricPrecision"/>
<rect x="521.6" y="505.6" width="1.4" height="1.4" fill="#fff" shape-rendering="geometricPrecision"/>
<rect x="526" y="478" width="51" height="30" fill="#000" />
<rect x="527.9" y="480" width="47.6" height="26" rx="3.5" fill="#fff" shape-rendering="geometricPrecision"/>
<rect x="527" y="479" width="1.4" height="1.4" fill="#fff" shape-rendering="geometricPrecision"/>
<rect x="574.6" y="479" width="1.4" height="1.4" fill="#fff" shape-rendering="geometricPrecision"/>
<rect x="527" y="505.6" width="1.4" height="1.4" fill="#fff" shape-rendering="geometricPrecision"/>
<rect x="574.6" y="505.6" width="1.4" height="1.4" fill="#fff" shape-rendering="geometricPrecision"/>
<rect x="581" y="477" width="7" height="19" fill="#000" />
<rect x="583" y="478" width="1" height="12" fill="#fff" />
<rect x="584" y="483" width="3" height="1" fill="#fff" />
<rect x="584" y="489" width="3" height="1" fill="#fff" />
<rect x="584" y="491" width="3" height="3" fill="#fff" />
<rect x="585" y="492" width="1" height="1" fill="#000" />
<rect x="581" y="506" width="7" height="14" fill="#000" />
<rect x="583" y="507" width="1" height="12" fill="#fff" />
<rect x="584" y="507" width="3" height="1" fill="#fff" />
<rect x="584" y="512" width="3" height="1" fill="#fff" />
<rect x="584" y="518" width="3" height="1" fill="#fff" />
<polygon points="563.424,478.592 565.7,480.305 566.7,482.211 568,482.869 573.3,483.349 577.872,484.376 582,485 582,486.4 577.872,486.976 573.3,487.949 568,488.369 566.7,489.011 565.7,490.905 563.424,492.592" fill="#000" stroke="none" stroke-width="1" shape-rendering="geometricPrecision"/>
<rect x="533.1" y="477.1" width="32.8" height="18.4" rx="3.5" fill="#000" shape-rendering="geometricPrecision"/>
<rect x="535.4" y="479.2" width="28.6" height="13.9" rx="2" fill="#fff" shape-rendering="geometricPrecision"/>
<polygon points="562.736,480.588 565.7,482.305 566.7,484.211 568,484.619 573.3,484.999 574.776,485.598 574.776,485.718 573.3,486.299 568,486.619 566.7,487.011 565.7,488.905 562.736,490.588" fill="#fff" stroke="none" stroke-width="1" shape-rendering="geometricPrecision"/>
<text transform="translate(541.7,490.6) scale(0.75,1)" font-size="14" letter-spacing="2" >J6</text>
<polygon points="563.64,501.56 565.886,503.656 566.871,505.73 568.151,506.406 573.371,507.777 577.92,509.58 582,510.9 582,512.3 577.92,512.18 573.371,512.377 568.151,511.906 566.871,512.13 565.886,513.856 563.64,515.16" fill="#000" stroke="none" stroke-width="1" shape-rendering="geometricPrecision"/>
<rect x="533.8" y="499.3" width="32.3" height="18.4" rx="3.5" fill="#000" shape-rendering="geometricPrecision"/>
<rect x="535.6" y="501.7" width="28.7" height="14.1" rx="2" fill="#fff" shape-rendering="geometricPrecision"/>
<polygon points="562.96,503.44 565.886,505.656 566.871,507.73 568.151,508.156 573.371,509.427 574.86,510.28 574.86,510.4 573.371,510.727 568.151,510.156 566.871,510.13 565.886,511.856 562.96,513.04" fill="#fff" stroke="none" stroke-width="1" shape-rendering="geometricPrecision"/>
<text transform="translate(538.5,512.8) scale(0.75,1)" font-size="14" letter-spacing="2.6" >J13</text>
<text transform="translate(615.6,53.8) scale(0.75,1)" font-size="12.4" letter-spacing="1.9" >MH0167</text>
</svg>
</body></html>
